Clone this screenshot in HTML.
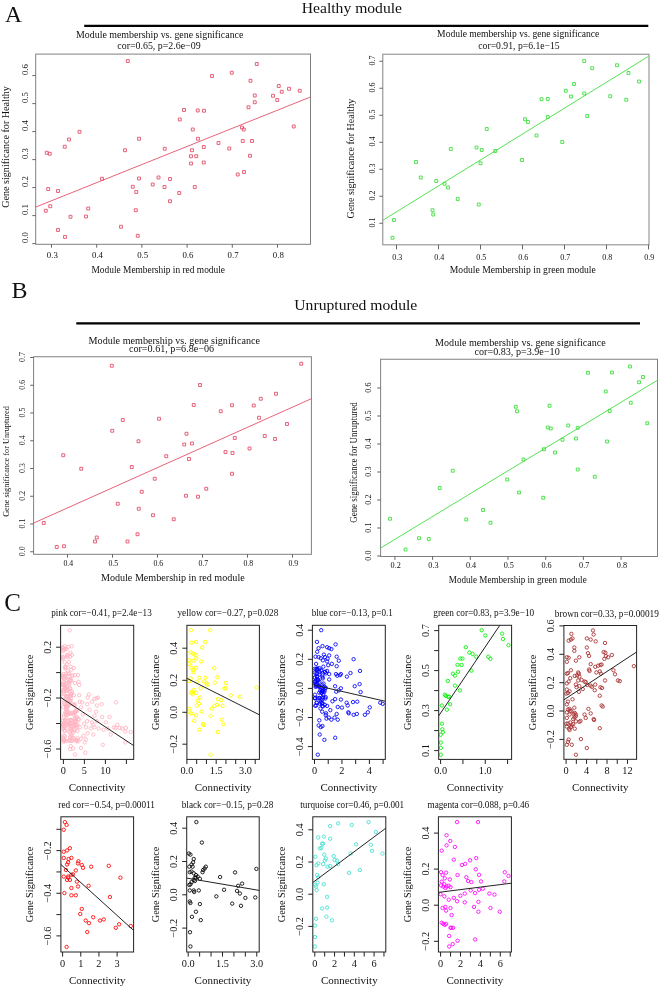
<!DOCTYPE html>
<html><head><meta charset="utf-8"><style>
html,body{margin:0;padding:0;background:#fff;width:660px;height:987px;overflow:hidden}
svg{display:block;filter:blur(0.3px)}
text{font-family:"Liberation Serif",serif}
</style></head><body>
<svg width="660" height="987" viewBox="0 0 660 987" font-family="Liberation Serif, serif">
<rect width="660" height="987" fill="#fff"/>
<text x="5.00" y="22.00" font-size="23.5" text-anchor="start" fill="#111" >A</text>
<text x="301.80" y="12.60" font-size="15.5" text-anchor="start" textLength="100.20" lengthAdjust="spacingAndGlyphs" fill="#111" >Healthy module</text>
<line x1="84.20" y1="25.80" x2="648.30" y2="25.80" stroke="#000" stroke-width="2.3"/>
<text x="11.60" y="297.80" font-size="24" text-anchor="start" fill="#111" >B</text>
<text x="294.30" y="310.00" font-size="15.5" text-anchor="start" textLength="123.00" lengthAdjust="spacingAndGlyphs" fill="#111" >Unruptured module</text>
<line x1="76.25" y1="323.30" x2="640.00" y2="323.30" stroke="#000" stroke-width="2.3"/>
<text x="4.20" y="611.40" font-size="25" text-anchor="start" fill="#111" >C</text>
<rect x="35.70" y="54.10" width="274.80" height="190.20" stroke="#808080" stroke-width="1" fill="none"/>
<line x1="32.30" y1="243.60" x2="35.70" y2="243.60" stroke="#555" stroke-width="0.9"/>
<text x="28.00" y="237.60" font-size="8.8" text-anchor="middle" transform="rotate(-90 28.00 237.60)" fill="#111" >0.0</text>
<line x1="32.30" y1="215.60" x2="35.70" y2="215.60" stroke="#555" stroke-width="0.9"/>
<text x="28.00" y="209.60" font-size="8.8" text-anchor="middle" transform="rotate(-90 28.00 209.60)" fill="#111" >0.1</text>
<line x1="32.30" y1="187.60" x2="35.70" y2="187.60" stroke="#555" stroke-width="0.9"/>
<text x="28.00" y="181.60" font-size="8.8" text-anchor="middle" transform="rotate(-90 28.00 181.60)" fill="#111" >0.2</text>
<line x1="32.30" y1="159.60" x2="35.70" y2="159.60" stroke="#555" stroke-width="0.9"/>
<text x="28.00" y="153.60" font-size="8.8" text-anchor="middle" transform="rotate(-90 28.00 153.60)" fill="#111" >0.3</text>
<line x1="32.30" y1="131.60" x2="35.70" y2="131.60" stroke="#555" stroke-width="0.9"/>
<text x="28.00" y="125.60" font-size="8.8" text-anchor="middle" transform="rotate(-90 28.00 125.60)" fill="#111" >0.4</text>
<line x1="32.30" y1="103.60" x2="35.70" y2="103.60" stroke="#555" stroke-width="0.9"/>
<text x="28.00" y="97.60" font-size="8.8" text-anchor="middle" transform="rotate(-90 28.00 97.60)" fill="#111" >0.5</text>
<line x1="32.30" y1="75.60" x2="35.70" y2="75.60" stroke="#555" stroke-width="0.9"/>
<text x="28.00" y="69.60" font-size="8.8" text-anchor="middle" transform="rotate(-90 28.00 69.60)" fill="#111" >0.6</text>
<line x1="51.50" y1="244.30" x2="51.50" y2="247.70" stroke="#555" stroke-width="0.9"/>
<text x="52.30" y="258.20" font-size="8.8" text-anchor="middle" fill="#111" >0.3</text>
<line x1="96.70" y1="244.30" x2="96.70" y2="247.70" stroke="#555" stroke-width="0.9"/>
<text x="97.50" y="258.20" font-size="8.8" text-anchor="middle" fill="#111" >0.4</text>
<line x1="141.90" y1="244.30" x2="141.90" y2="247.70" stroke="#555" stroke-width="0.9"/>
<text x="142.70" y="258.20" font-size="8.8" text-anchor="middle" fill="#111" >0.5</text>
<line x1="187.10" y1="244.30" x2="187.10" y2="247.70" stroke="#555" stroke-width="0.9"/>
<text x="187.90" y="258.20" font-size="8.8" text-anchor="middle" fill="#111" >0.6</text>
<line x1="232.30" y1="244.30" x2="232.30" y2="247.70" stroke="#555" stroke-width="0.9"/>
<text x="233.10" y="258.20" font-size="8.8" text-anchor="middle" fill="#111" >0.7</text>
<line x1="277.50" y1="244.30" x2="277.50" y2="247.70" stroke="#555" stroke-width="0.9"/>
<text x="278.30" y="258.20" font-size="8.8" text-anchor="middle" fill="#111" >0.8</text>
<path d="M126.30,59.55h2.9v2.9h-2.9zM78.05,130.30h2.9v2.9h-2.9zM67.55,138.05h2.9v2.9h-2.9zM63.30,145.30h2.9v2.9h-2.9zM45.30,151.30h2.9v2.9h-2.9zM48.30,152.30h2.9v2.9h-2.9zM123.55,148.80h2.9v2.9h-2.9zM137.55,137.30h2.9v2.9h-2.9zM163.30,147.30h2.9v2.9h-2.9zM182.55,108.55h2.9v2.9h-2.9zM196.30,109.05h2.9v2.9h-2.9zM178.30,118.05h2.9v2.9h-2.9zM191.30,128.05h2.9v2.9h-2.9zM196.55,137.30h2.9v2.9h-2.9zM190.55,148.80h2.9v2.9h-2.9zM189.55,154.80h2.9v2.9h-2.9zM194.80,154.80h2.9v2.9h-2.9zM46.80,187.55h2.9v2.9h-2.9zM56.55,189.55h2.9v2.9h-2.9zM44.30,209.30h2.9v2.9h-2.9zM48.80,204.80h2.9v2.9h-2.9zM100.55,177.30h2.9v2.9h-2.9zM86.80,207.05h2.9v2.9h-2.9zM69.05,215.30h2.9v2.9h-2.9zM84.55,215.05h2.9v2.9h-2.9zM56.55,228.55h2.9v2.9h-2.9zM63.55,235.55h2.9v2.9h-2.9zM119.55,225.30h2.9v2.9h-2.9zM136.30,234.30h2.9v2.9h-2.9zM134.30,208.80h2.9v2.9h-2.9zM131.30,185.30h2.9v2.9h-2.9zM134.80,190.55h2.9v2.9h-2.9zM137.55,177.05h2.9v2.9h-2.9zM151.30,183.05h2.9v2.9h-2.9zM157.05,176.05h2.9v2.9h-2.9zM163.05,185.55h2.9v2.9h-2.9zM168.55,177.55h2.9v2.9h-2.9zM168.55,199.80h2.9v2.9h-2.9zM177.80,191.55h2.9v2.9h-2.9zM193.30,185.55h2.9v2.9h-2.9zM189.55,162.05h2.9v2.9h-2.9zM255.30,62.55h2.9v2.9h-2.9zM210.55,74.55h2.9v2.9h-2.9zM230.30,71.30h2.9v2.9h-2.9zM249.05,79.30h2.9v2.9h-2.9zM277.30,84.55h2.9v2.9h-2.9zM287.55,87.30h2.9v2.9h-2.9zM280.30,90.30h2.9v2.9h-2.9zM298.30,89.30h2.9v2.9h-2.9zM271.55,94.30h2.9v2.9h-2.9zM275.80,98.55h2.9v2.9h-2.9zM253.30,94.05h2.9v2.9h-2.9zM253.30,100.80h2.9v2.9h-2.9zM247.05,105.80h2.9v2.9h-2.9zM202.55,109.30h2.9v2.9h-2.9zM240.55,126.05h2.9v2.9h-2.9zM242.30,128.05h2.9v2.9h-2.9zM292.30,125.05h2.9v2.9h-2.9zM202.30,145.55h2.9v2.9h-2.9zM217.05,141.55h2.9v2.9h-2.9zM227.80,147.05h2.9v2.9h-2.9zM241.30,139.55h2.9v2.9h-2.9zM250.55,139.55h2.9v2.9h-2.9zM248.55,154.30h2.9v2.9h-2.9zM202.30,161.05h2.9v2.9h-2.9zM236.30,173.05h2.9v2.9h-2.9zM242.55,170.55h2.9v2.9h-2.9z" fill="none" stroke="#e4506a" stroke-width="0.9"/>
<line x1="35.70" y1="207.10" x2="310.40" y2="97.00" stroke="#e4506a" stroke-width="0.9"/>
<text x="76.00" y="37.50" font-size="9.7" text-anchor="start" textLength="167.40" lengthAdjust="spacingAndGlyphs" fill="#111" >Module membership vs. gene significance</text>
<text x="117.30" y="48.50" font-size="9.7" text-anchor="start" textLength="83.30" lengthAdjust="spacingAndGlyphs" fill="#111" >cor=0.65, p=2.6e−09</text>
<text x="91.50" y="273.00" font-size="9.7" text-anchor="start" textLength="133.50" lengthAdjust="spacingAndGlyphs" fill="#111" >Module Membership in red module</text>
<text x="9.30" y="147.00" font-size="9.7" text-anchor="middle" textLength="121.70" lengthAdjust="spacingAndGlyphs" transform="rotate(-90 9.30 147.00)" fill="#111" >Gene significance for Healthy</text>
<rect x="382.75" y="54.25" width="266.25" height="190.55" stroke="#999999" stroke-width="1.2" fill="none"/>
<line x1="379.35" y1="223.25" x2="382.75" y2="223.25" stroke="#555" stroke-width="0.9"/>
<text x="375.00" y="222.45" font-size="8" text-anchor="middle" transform="rotate(-90 375.00 222.45)" fill="#111" >0.1</text>
<line x1="379.35" y1="196.25" x2="382.75" y2="196.25" stroke="#555" stroke-width="0.9"/>
<text x="375.00" y="195.45" font-size="8" text-anchor="middle" transform="rotate(-90 375.00 195.45)" fill="#111" >0.2</text>
<line x1="379.35" y1="169.25" x2="382.75" y2="169.25" stroke="#555" stroke-width="0.9"/>
<text x="375.00" y="168.45" font-size="8" text-anchor="middle" transform="rotate(-90 375.00 168.45)" fill="#111" >0.3</text>
<line x1="379.35" y1="142.25" x2="382.75" y2="142.25" stroke="#555" stroke-width="0.9"/>
<text x="375.00" y="141.45" font-size="8" text-anchor="middle" transform="rotate(-90 375.00 141.45)" fill="#111" >0.4</text>
<line x1="379.35" y1="115.25" x2="382.75" y2="115.25" stroke="#555" stroke-width="0.9"/>
<text x="375.00" y="114.45" font-size="8" text-anchor="middle" transform="rotate(-90 375.00 114.45)" fill="#111" >0.5</text>
<line x1="379.35" y1="88.25" x2="382.75" y2="88.25" stroke="#555" stroke-width="0.9"/>
<text x="375.00" y="87.45" font-size="8" text-anchor="middle" transform="rotate(-90 375.00 87.45)" fill="#111" >0.6</text>
<line x1="379.35" y1="61.25" x2="382.75" y2="61.25" stroke="#555" stroke-width="0.9"/>
<text x="375.00" y="60.45" font-size="8" text-anchor="middle" transform="rotate(-90 375.00 60.45)" fill="#111" >0.7</text>
<line x1="396.50" y1="244.80" x2="396.50" y2="249.40" stroke="#555" stroke-width="0.9"/>
<text x="397.30" y="259.50" font-size="8" text-anchor="middle" fill="#111" >0.3</text>
<line x1="438.50" y1="244.80" x2="438.50" y2="249.40" stroke="#555" stroke-width="0.9"/>
<text x="439.30" y="259.50" font-size="8" text-anchor="middle" fill="#111" >0.4</text>
<line x1="480.50" y1="244.80" x2="480.50" y2="249.40" stroke="#555" stroke-width="0.9"/>
<text x="481.30" y="259.50" font-size="8" text-anchor="middle" fill="#111" >0.5</text>
<line x1="522.50" y1="244.80" x2="522.50" y2="249.40" stroke="#555" stroke-width="0.9"/>
<text x="523.30" y="259.50" font-size="8" text-anchor="middle" fill="#111" >0.6</text>
<line x1="564.50" y1="244.80" x2="564.50" y2="249.40" stroke="#555" stroke-width="0.9"/>
<text x="565.30" y="259.50" font-size="8" text-anchor="middle" fill="#111" >0.7</text>
<line x1="606.50" y1="244.80" x2="606.50" y2="249.40" stroke="#555" stroke-width="0.9"/>
<text x="607.30" y="259.50" font-size="8" text-anchor="middle" fill="#111" >0.8</text>
<line x1="648.50" y1="244.80" x2="648.50" y2="249.40" stroke="#555" stroke-width="0.9"/>
<text x="649.30" y="259.50" font-size="8" text-anchor="middle" fill="#111" >0.9</text>
<path d="M540.05,97.80h2.9v2.9h-2.9zM523.55,117.80h2.9v2.9h-2.9zM526.55,120.55h2.9v2.9h-2.9zM485.30,127.55h2.9v2.9h-2.9zM535.05,134.05h2.9v2.9h-2.9zM449.30,147.55h2.9v2.9h-2.9zM475.05,146.05h2.9v2.9h-2.9zM480.30,148.55h2.9v2.9h-2.9zM493.80,149.55h2.9v2.9h-2.9zM520.55,158.55h2.9v2.9h-2.9zM414.55,160.55h2.9v2.9h-2.9zM479.05,161.80h2.9v2.9h-2.9zM419.30,176.05h2.9v2.9h-2.9zM434.80,179.55h2.9v2.9h-2.9zM443.05,182.30h2.9v2.9h-2.9zM446.55,186.05h2.9v2.9h-2.9zM456.30,197.55h2.9v2.9h-2.9zM477.30,203.05h2.9v2.9h-2.9zM431.05,208.80h2.9v2.9h-2.9zM431.80,213.05h2.9v2.9h-2.9zM392.55,218.55h2.9v2.9h-2.9zM391.05,236.30h2.9v2.9h-2.9zM582.80,59.55h2.9v2.9h-2.9zM590.80,66.80h2.9v2.9h-2.9zM615.55,63.80h2.9v2.9h-2.9zM627.05,71.55h2.9v2.9h-2.9zM637.55,80.05h2.9v2.9h-2.9zM572.55,82.55h2.9v2.9h-2.9zM564.30,89.30h2.9v2.9h-2.9zM569.55,95.05h2.9v2.9h-2.9zM582.80,92.05h2.9v2.9h-2.9zM608.80,94.80h2.9v2.9h-2.9zM624.80,98.30h2.9v2.9h-2.9zM546.30,97.55h2.9v2.9h-2.9zM585.80,114.55h2.9v2.9h-2.9zM546.30,115.55h2.9v2.9h-2.9zM560.80,140.55h2.9v2.9h-2.9z" fill="none" stroke="#3ee03e" stroke-width="0.9"/>
<line x1="382.75" y1="220.30" x2="648.50" y2="56.30" stroke="#3ee03e" stroke-width="0.9"/>
<text x="437.10" y="37.30" font-size="9.4" text-anchor="start" textLength="162.30" lengthAdjust="spacingAndGlyphs" fill="#111" >Module membership vs. gene significance</text>
<text x="478.30" y="48.60" font-size="9.4" text-anchor="start" textLength="81.40" lengthAdjust="spacingAndGlyphs" fill="#111" >cor=0.91, p=6.1e−15</text>
<text x="449.80" y="272.80" font-size="9.4" text-anchor="start" textLength="146.00" lengthAdjust="spacingAndGlyphs" fill="#111" >Module Membership in green module</text>
<text x="353.70" y="158.70" font-size="9.6" text-anchor="middle" textLength="119.70" lengthAdjust="spacingAndGlyphs" transform="rotate(-90 353.70 158.70)" fill="#111" >Gene significance for Healthy</text>
<rect x="33.60" y="356.75" width="277.80" height="197.55" stroke="#808080" stroke-width="1" fill="none"/>
<line x1="30.20" y1="551.75" x2="33.60" y2="551.75" stroke="#555" stroke-width="0.9"/>
<text x="25.10" y="551.25" font-size="7.8" text-anchor="middle" transform="rotate(-90 25.10 551.25)" fill="#111" >0.0</text>
<line x1="30.20" y1="524.00" x2="33.60" y2="524.00" stroke="#555" stroke-width="0.9"/>
<text x="25.10" y="523.50" font-size="7.8" text-anchor="middle" transform="rotate(-90 25.10 523.50)" fill="#111" >0.1</text>
<line x1="30.20" y1="496.25" x2="33.60" y2="496.25" stroke="#555" stroke-width="0.9"/>
<text x="25.10" y="495.75" font-size="7.8" text-anchor="middle" transform="rotate(-90 25.10 495.75)" fill="#111" >0.2</text>
<line x1="30.20" y1="468.50" x2="33.60" y2="468.50" stroke="#555" stroke-width="0.9"/>
<text x="25.10" y="468.00" font-size="7.8" text-anchor="middle" transform="rotate(-90 25.10 468.00)" fill="#111" >0.3</text>
<line x1="30.20" y1="440.75" x2="33.60" y2="440.75" stroke="#555" stroke-width="0.9"/>
<text x="25.10" y="440.25" font-size="7.8" text-anchor="middle" transform="rotate(-90 25.10 440.25)" fill="#111" >0.4</text>
<line x1="30.20" y1="413.00" x2="33.60" y2="413.00" stroke="#555" stroke-width="0.9"/>
<text x="25.10" y="412.50" font-size="7.8" text-anchor="middle" transform="rotate(-90 25.10 412.50)" fill="#111" >0.5</text>
<line x1="30.20" y1="385.25" x2="33.60" y2="385.25" stroke="#555" stroke-width="0.9"/>
<text x="25.10" y="384.75" font-size="7.8" text-anchor="middle" transform="rotate(-90 25.10 384.75)" fill="#111" >0.6</text>
<line x1="30.20" y1="357.50" x2="33.60" y2="357.50" stroke="#555" stroke-width="0.9"/>
<text x="25.10" y="357.00" font-size="7.8" text-anchor="middle" transform="rotate(-90 25.10 357.00)" fill="#111" >0.7</text>
<line x1="67.50" y1="554.30" x2="67.50" y2="557.70" stroke="#555" stroke-width="0.9"/>
<text x="68.30" y="566.40" font-size="7.8" text-anchor="middle" fill="#111" >0.4</text>
<line x1="112.50" y1="554.30" x2="112.50" y2="557.70" stroke="#555" stroke-width="0.9"/>
<text x="113.30" y="566.40" font-size="7.8" text-anchor="middle" fill="#111" >0.5</text>
<line x1="157.50" y1="554.30" x2="157.50" y2="557.70" stroke="#555" stroke-width="0.9"/>
<text x="158.30" y="566.40" font-size="7.8" text-anchor="middle" fill="#111" >0.6</text>
<line x1="202.50" y1="554.30" x2="202.50" y2="557.70" stroke="#555" stroke-width="0.9"/>
<text x="203.30" y="566.40" font-size="7.8" text-anchor="middle" fill="#111" >0.7</text>
<line x1="247.50" y1="554.30" x2="247.50" y2="557.70" stroke="#555" stroke-width="0.9"/>
<text x="248.30" y="566.40" font-size="7.8" text-anchor="middle" fill="#111" >0.8</text>
<line x1="292.50" y1="554.30" x2="292.50" y2="557.70" stroke="#555" stroke-width="0.9"/>
<text x="293.30" y="566.40" font-size="7.8" text-anchor="middle" fill="#111" >0.9</text>
<path d="M110.30,364.30h2.9v2.9h-2.9zM121.30,418.55h2.9v2.9h-2.9zM157.55,417.30h2.9v2.9h-2.9zM110.80,429.30h2.9v2.9h-2.9zM137.05,439.80h2.9v2.9h-2.9zM185.05,432.30h2.9v2.9h-2.9zM182.80,443.05h2.9v2.9h-2.9zM190.55,442.05h2.9v2.9h-2.9zM192.30,403.55h2.9v2.9h-2.9zM61.80,453.80h2.9v2.9h-2.9zM164.80,454.80h2.9v2.9h-2.9zM187.55,457.55h2.9v2.9h-2.9zM79.80,467.30h2.9v2.9h-2.9zM130.30,465.55h2.9v2.9h-2.9zM153.30,477.30h2.9v2.9h-2.9zM140.30,490.30h2.9v2.9h-2.9zM184.55,494.30h2.9v2.9h-2.9zM116.30,502.30h2.9v2.9h-2.9zM137.30,507.30h2.9v2.9h-2.9zM151.55,513.80h2.9v2.9h-2.9zM172.30,517.80h2.9v2.9h-2.9zM42.30,521.55h2.9v2.9h-2.9zM95.30,536.05h2.9v2.9h-2.9zM93.55,540.05h2.9v2.9h-2.9zM126.05,540.05h2.9v2.9h-2.9zM136.05,532.80h2.9v2.9h-2.9zM55.30,545.55h2.9v2.9h-2.9zM62.55,544.80h2.9v2.9h-2.9zM299.80,362.30h2.9v2.9h-2.9zM198.55,383.55h2.9v2.9h-2.9zM274.55,392.30h2.9v2.9h-2.9zM259.30,397.30h2.9v2.9h-2.9zM230.55,403.80h2.9v2.9h-2.9zM252.30,404.05h2.9v2.9h-2.9zM219.30,409.80h2.9v2.9h-2.9zM257.55,416.30h2.9v2.9h-2.9zM285.55,422.55h2.9v2.9h-2.9zM233.30,436.55h2.9v2.9h-2.9zM263.30,434.55h2.9v2.9h-2.9zM273.55,437.55h2.9v2.9h-2.9zM248.05,447.05h2.9v2.9h-2.9zM224.05,450.55h2.9v2.9h-2.9zM231.05,451.55h2.9v2.9h-2.9zM230.55,472.30h2.9v2.9h-2.9zM204.80,487.30h2.9v2.9h-2.9zM196.55,495.30h2.9v2.9h-2.9z" fill="none" stroke="#e4506a" stroke-width="0.9"/>
<line x1="33.60" y1="523.10" x2="311.25" y2="398.75" stroke="#e4506a" stroke-width="0.9"/>
<text x="88.60" y="343.90" font-size="9.4" text-anchor="start" textLength="171.40" lengthAdjust="spacingAndGlyphs" fill="#111" >Module membership vs. gene significance</text>
<text x="128.90" y="351.70" font-size="9.4" text-anchor="start" textLength="85.20" lengthAdjust="spacingAndGlyphs" fill="#111" >cor=0.61, p=6.8e−06</text>
<text x="100.90" y="580.50" font-size="9.4" text-anchor="start" textLength="143.80" lengthAdjust="spacingAndGlyphs" fill="#111" >Module Membership in red module</text>
<text x="9.20" y="461.50" font-size="8.8" text-anchor="middle" textLength="110.70" lengthAdjust="spacingAndGlyphs" transform="rotate(-90 9.20 461.50)" fill="#111" >Gene significance for Unruptured</text>
<rect x="380.60" y="359.25" width="276.90" height="197.25" stroke="#808080" stroke-width="1" fill="none"/>
<line x1="377.20" y1="556.00" x2="380.60" y2="556.00" stroke="#555" stroke-width="0.9"/>
<text x="371.00" y="555.50" font-size="8.2" text-anchor="middle" transform="rotate(-90 371.00 555.50)" fill="#111" >0.0</text>
<line x1="377.20" y1="528.00" x2="380.60" y2="528.00" stroke="#555" stroke-width="0.9"/>
<text x="371.00" y="527.50" font-size="8.2" text-anchor="middle" transform="rotate(-90 371.00 527.50)" fill="#111" >0.1</text>
<line x1="377.20" y1="500.00" x2="380.60" y2="500.00" stroke="#555" stroke-width="0.9"/>
<text x="371.00" y="499.50" font-size="8.2" text-anchor="middle" transform="rotate(-90 371.00 499.50)" fill="#111" >0.2</text>
<line x1="377.20" y1="472.00" x2="380.60" y2="472.00" stroke="#555" stroke-width="0.9"/>
<text x="371.00" y="471.50" font-size="8.2" text-anchor="middle" transform="rotate(-90 371.00 471.50)" fill="#111" >0.3</text>
<line x1="377.20" y1="444.00" x2="380.60" y2="444.00" stroke="#555" stroke-width="0.9"/>
<text x="371.00" y="443.50" font-size="8.2" text-anchor="middle" transform="rotate(-90 371.00 443.50)" fill="#111" >0.4</text>
<line x1="377.20" y1="416.00" x2="380.60" y2="416.00" stroke="#555" stroke-width="0.9"/>
<text x="371.00" y="415.50" font-size="8.2" text-anchor="middle" transform="rotate(-90 371.00 415.50)" fill="#111" >0.5</text>
<line x1="377.20" y1="388.00" x2="380.60" y2="388.00" stroke="#555" stroke-width="0.9"/>
<text x="371.00" y="387.50" font-size="8.2" text-anchor="middle" transform="rotate(-90 371.00 387.50)" fill="#111" >0.6</text>
<line x1="394.90" y1="556.50" x2="394.90" y2="559.90" stroke="#555" stroke-width="0.9"/>
<text x="395.70" y="568.20" font-size="8.2" text-anchor="middle" fill="#111" >0.2</text>
<line x1="432.60" y1="556.50" x2="432.60" y2="559.90" stroke="#555" stroke-width="0.9"/>
<text x="433.40" y="568.20" font-size="8.2" text-anchor="middle" fill="#111" >0.3</text>
<line x1="470.30" y1="556.50" x2="470.30" y2="559.90" stroke="#555" stroke-width="0.9"/>
<text x="471.10" y="568.20" font-size="8.2" text-anchor="middle" fill="#111" >0.4</text>
<line x1="508.00" y1="556.50" x2="508.00" y2="559.90" stroke="#555" stroke-width="0.9"/>
<text x="508.80" y="568.20" font-size="8.2" text-anchor="middle" fill="#111" >0.5</text>
<line x1="545.70" y1="556.50" x2="545.70" y2="559.90" stroke="#555" stroke-width="0.9"/>
<text x="546.50" y="568.20" font-size="8.2" text-anchor="middle" fill="#111" >0.6</text>
<line x1="583.40" y1="556.50" x2="583.40" y2="559.90" stroke="#555" stroke-width="0.9"/>
<text x="584.20" y="568.20" font-size="8.2" text-anchor="middle" fill="#111" >0.7</text>
<line x1="621.10" y1="556.50" x2="621.10" y2="559.90" stroke="#555" stroke-width="0.9"/>
<text x="621.90" y="568.20" font-size="8.2" text-anchor="middle" fill="#111" >0.8</text>
<path d="M514.30,405.30h2.9v2.9h-2.9zM515.55,409.80h2.9v2.9h-2.9zM522.05,458.05h2.9v2.9h-2.9zM451.30,469.30h2.9v2.9h-2.9zM505.80,478.05h2.9v2.9h-2.9zM438.30,486.55h2.9v2.9h-2.9zM517.55,491.05h2.9v2.9h-2.9zM541.80,496.30h2.9v2.9h-2.9zM481.55,508.55h2.9v2.9h-2.9zM388.55,517.30h2.9v2.9h-2.9zM464.80,518.05h2.9v2.9h-2.9zM489.05,521.30h2.9v2.9h-2.9zM417.55,536.80h2.9v2.9h-2.9zM427.30,537.55h2.9v2.9h-2.9zM404.05,548.05h2.9v2.9h-2.9zM628.55,365.05h2.9v2.9h-2.9zM586.55,371.30h2.9v2.9h-2.9zM610.55,371.05h2.9v2.9h-2.9zM641.55,375.55h2.9v2.9h-2.9zM637.55,380.80h2.9v2.9h-2.9zM604.30,390.05h2.9v2.9h-2.9zM629.30,401.30h2.9v2.9h-2.9zM548.05,404.30h2.9v2.9h-2.9zM608.30,409.55h2.9v2.9h-2.9zM645.80,421.80h2.9v2.9h-2.9zM566.80,424.05h2.9v2.9h-2.9zM546.30,426.05h2.9v2.9h-2.9zM549.30,427.05h2.9v2.9h-2.9zM576.30,426.30h2.9v2.9h-2.9zM561.05,438.30h2.9v2.9h-2.9zM574.55,437.05h2.9v2.9h-2.9zM605.55,440.05h2.9v2.9h-2.9zM542.55,447.80h2.9v2.9h-2.9zM553.55,451.05h2.9v2.9h-2.9zM576.30,468.05h2.9v2.9h-2.9zM593.30,475.30h2.9v2.9h-2.9z" fill="none" stroke="#3ee03e" stroke-width="0.9"/>
<line x1="380.60" y1="548.00" x2="657.75" y2="380.00" stroke="#3ee03e" stroke-width="0.9"/>
<text x="435.10" y="346.00" font-size="9.4" text-anchor="start" textLength="170.70" lengthAdjust="spacingAndGlyphs" fill="#111" >Module membership vs. gene significance</text>
<text x="474.50" y="354.60" font-size="9.4" text-anchor="start" textLength="85.20" lengthAdjust="spacingAndGlyphs" fill="#111" >cor=0.83, p=3.9e−10</text>
<text x="448.80" y="582.70" font-size="9.4" text-anchor="start" textLength="137.90" lengthAdjust="spacingAndGlyphs" fill="#111" >Module Membership in green module</text>
<text x="356.60" y="462.50" font-size="9.6" text-anchor="middle" textLength="120.60" lengthAdjust="spacingAndGlyphs" transform="rotate(-90 356.60 462.50)" fill="#111" >Gene significance for Unruptured</text>
<path d="M68.10,630.30a1.7,1.7 0 1,0 3.4,0a1.7,1.7 0 1,0 -3.4,0M63.00,646.10a1.7,1.7 0 1,0 3.4,0a1.7,1.7 0 1,0 -3.4,0M65.00,649.10a1.7,1.7 0 1,0 3.4,0a1.7,1.7 0 1,0 -3.4,0M61.80,649.70a1.7,1.7 0 1,0 3.4,0a1.7,1.7 0 1,0 -3.4,0M70.20,654.90a1.7,1.7 0 1,0 3.4,0a1.7,1.7 0 1,0 -3.4,0M68.40,656.70a1.7,1.7 0 1,0 3.4,0a1.7,1.7 0 1,0 -3.4,0M65.40,657.00a1.7,1.7 0 1,0 3.4,0a1.7,1.7 0 1,0 -3.4,0M61.80,657.60a1.7,1.7 0 1,0 3.4,0a1.7,1.7 0 1,0 -3.4,0M67.20,661.80a1.7,1.7 0 1,0 3.4,0a1.7,1.7 0 1,0 -3.4,0M63.00,662.40a1.7,1.7 0 1,0 3.4,0a1.7,1.7 0 1,0 -3.4,0M65.40,664.20a1.7,1.7 0 1,0 3.4,0a1.7,1.7 0 1,0 -3.4,0M72.10,667.90a1.7,1.7 0 1,0 3.4,0a1.7,1.7 0 1,0 -3.4,0M69.60,669.70a1.7,1.7 0 1,0 3.4,0a1.7,1.7 0 1,0 -3.4,0M69.00,666.70a1.7,1.7 0 1,0 3.4,0a1.7,1.7 0 1,0 -3.4,0M63.60,668.50a1.7,1.7 0 1,0 3.4,0a1.7,1.7 0 1,0 -3.4,0M73.30,675.20a1.7,1.7 0 1,0 3.4,0a1.7,1.7 0 1,0 -3.4,0M76.30,675.20a1.7,1.7 0 1,0 3.4,0a1.7,1.7 0 1,0 -3.4,0M76.90,681.80a1.7,1.7 0 1,0 3.4,0a1.7,1.7 0 1,0 -3.4,0M77.50,684.80a1.7,1.7 0 1,0 3.4,0a1.7,1.7 0 1,0 -3.4,0M73.30,683.00a1.7,1.7 0 1,0 3.4,0a1.7,1.7 0 1,0 -3.4,0M87.20,694.50a1.7,1.7 0 1,0 3.4,0a1.7,1.7 0 1,0 -3.4,0M86.00,697.60a1.7,1.7 0 1,0 3.4,0a1.7,1.7 0 1,0 -3.4,0M92.70,698.80a1.7,1.7 0 1,0 3.4,0a1.7,1.7 0 1,0 -3.4,0M94.80,698.20a1.7,1.7 0 1,0 3.4,0a1.7,1.7 0 1,0 -3.4,0M96.30,697.60a1.7,1.7 0 1,0 3.4,0a1.7,1.7 0 1,0 -3.4,0M77.50,695.20a1.7,1.7 0 1,0 3.4,0a1.7,1.7 0 1,0 -3.4,0M72.10,695.20a1.7,1.7 0 1,0 3.4,0a1.7,1.7 0 1,0 -3.4,0M68.40,695.80a1.7,1.7 0 1,0 3.4,0a1.7,1.7 0 1,0 -3.4,0M78.10,701.80a1.7,1.7 0 1,0 3.4,0a1.7,1.7 0 1,0 -3.4,0M80.50,702.40a1.7,1.7 0 1,0 3.4,0a1.7,1.7 0 1,0 -3.4,0M85.40,704.20a1.7,1.7 0 1,0 3.4,0a1.7,1.7 0 1,0 -3.4,0M90.20,701.80a1.7,1.7 0 1,0 3.4,0a1.7,1.7 0 1,0 -3.4,0M95.10,705.50a1.7,1.7 0 1,0 3.4,0a1.7,1.7 0 1,0 -3.4,0M99.90,704.20a1.7,1.7 0 1,0 3.4,0a1.7,1.7 0 1,0 -3.4,0M114.20,702.40a1.7,1.7 0 1,0 3.4,0a1.7,1.7 0 1,0 -3.4,0M87.80,709.70a1.7,1.7 0 1,0 3.4,0a1.7,1.7 0 1,0 -3.4,0M94.50,711.80a1.7,1.7 0 1,0 3.4,0a1.7,1.7 0 1,0 -3.4,0M79.30,707.30a1.7,1.7 0 1,0 3.4,0a1.7,1.7 0 1,0 -3.4,0M81.10,714.50a1.7,1.7 0 1,0 3.4,0a1.7,1.7 0 1,0 -3.4,0M92.70,715.80a1.7,1.7 0 1,0 3.4,0a1.7,1.7 0 1,0 -3.4,0M100.50,717.00a1.7,1.7 0 1,0 3.4,0a1.7,1.7 0 1,0 -3.4,0M107.80,717.00a1.7,1.7 0 1,0 3.4,0a1.7,1.7 0 1,0 -3.4,0M76.90,718.80a1.7,1.7 0 1,0 3.4,0a1.7,1.7 0 1,0 -3.4,0M85.40,721.20a1.7,1.7 0 1,0 3.4,0a1.7,1.7 0 1,0 -3.4,0M90.20,722.40a1.7,1.7 0 1,0 3.4,0a1.7,1.7 0 1,0 -3.4,0M95.10,721.20a1.7,1.7 0 1,0 3.4,0a1.7,1.7 0 1,0 -3.4,0M104.20,722.40a1.7,1.7 0 1,0 3.4,0a1.7,1.7 0 1,0 -3.4,0M112.10,727.30a1.7,1.7 0 1,0 3.4,0a1.7,1.7 0 1,0 -3.4,0M115.70,724.80a1.7,1.7 0 1,0 3.4,0a1.7,1.7 0 1,0 -3.4,0M118.10,727.90a1.7,1.7 0 1,0 3.4,0a1.7,1.7 0 1,0 -3.4,0M120.50,728.50a1.7,1.7 0 1,0 3.4,0a1.7,1.7 0 1,0 -3.4,0M124.20,727.90a1.7,1.7 0 1,0 3.4,0a1.7,1.7 0 1,0 -3.4,0M129.00,732.10a1.7,1.7 0 1,0 3.4,0a1.7,1.7 0 1,0 -3.4,0M91.50,724.80a1.7,1.7 0 1,0 3.4,0a1.7,1.7 0 1,0 -3.4,0M92.70,727.30a1.7,1.7 0 1,0 3.4,0a1.7,1.7 0 1,0 -3.4,0M96.90,728.50a1.7,1.7 0 1,0 3.4,0a1.7,1.7 0 1,0 -3.4,0M101.80,729.70a1.7,1.7 0 1,0 3.4,0a1.7,1.7 0 1,0 -3.4,0M106.00,728.50a1.7,1.7 0 1,0 3.4,0a1.7,1.7 0 1,0 -3.4,0M109.00,734.50a1.7,1.7 0 1,0 3.4,0a1.7,1.7 0 1,0 -3.4,0M113.90,727.90a1.7,1.7 0 1,0 3.4,0a1.7,1.7 0 1,0 -3.4,0M123.60,731.50a1.7,1.7 0 1,0 3.4,0a1.7,1.7 0 1,0 -3.4,0M123.60,742.40a1.7,1.7 0 1,0 3.4,0a1.7,1.7 0 1,0 -3.4,0M101.10,744.80a1.7,1.7 0 1,0 3.4,0a1.7,1.7 0 1,0 -3.4,0M82.30,723.60a1.7,1.7 0 1,0 3.4,0a1.7,1.7 0 1,0 -3.4,0M84.20,727.30a1.7,1.7 0 1,0 3.4,0a1.7,1.7 0 1,0 -3.4,0M89.00,728.50a1.7,1.7 0 1,0 3.4,0a1.7,1.7 0 1,0 -3.4,0M86.00,733.30a1.7,1.7 0 1,0 3.4,0a1.7,1.7 0 1,0 -3.4,0M91.50,734.50a1.7,1.7 0 1,0 3.4,0a1.7,1.7 0 1,0 -3.4,0M81.80,735.80a1.7,1.7 0 1,0 3.4,0a1.7,1.7 0 1,0 -3.4,0M84.20,739.40a1.7,1.7 0 1,0 3.4,0a1.7,1.7 0 1,0 -3.4,0M83.00,742.40a1.7,1.7 0 1,0 3.4,0a1.7,1.7 0 1,0 -3.4,0M75.70,738.20a1.7,1.7 0 1,0 3.4,0a1.7,1.7 0 1,0 -3.4,0M75.10,740.60a1.7,1.7 0 1,0 3.4,0a1.7,1.7 0 1,0 -3.4,0M79.30,747.90a1.7,1.7 0 1,0 3.4,0a1.7,1.7 0 1,0 -3.4,0M83.60,752.70a1.7,1.7 0 1,0 3.4,0a1.7,1.7 0 1,0 -3.4,0M73.30,754.50a1.7,1.7 0 1,0 3.4,0a1.7,1.7 0 1,0 -3.4,0M69.00,746.10a1.7,1.7 0 1,0 3.4,0a1.7,1.7 0 1,0 -3.4,0M68.40,749.10a1.7,1.7 0 1,0 3.4,0a1.7,1.7 0 1,0 -3.4,0M71.50,748.50a1.7,1.7 0 1,0 3.4,0a1.7,1.7 0 1,0 -3.4,0M76.90,720.00a1.7,1.7 0 1,0 3.4,0a1.7,1.7 0 1,0 -3.4,0M74.50,724.80a1.7,1.7 0 1,0 3.4,0a1.7,1.7 0 1,0 -3.4,0M72.10,729.70a1.7,1.7 0 1,0 3.4,0a1.7,1.7 0 1,0 -3.4,0M75.70,730.90a1.7,1.7 0 1,0 3.4,0a1.7,1.7 0 1,0 -3.4,0M68.40,737.00a1.7,1.7 0 1,0 3.4,0a1.7,1.7 0 1,0 -3.4,0M67.20,740.60a1.7,1.7 0 1,0 3.4,0a1.7,1.7 0 1,0 -3.4,0M63.26,649.07a1.7,1.7 0 1,0 3.4,0a1.7,1.7 0 1,0 -3.4,0M66.48,646.96a1.7,1.7 0 1,0 3.4,0a1.7,1.7 0 1,0 -3.4,0M65.29,654.87a1.7,1.7 0 1,0 3.4,0a1.7,1.7 0 1,0 -3.4,0M61.11,658.70a1.7,1.7 0 1,0 3.4,0a1.7,1.7 0 1,0 -3.4,0M60.98,656.71a1.7,1.7 0 1,0 3.4,0a1.7,1.7 0 1,0 -3.4,0M61.19,647.45a1.7,1.7 0 1,0 3.4,0a1.7,1.7 0 1,0 -3.4,0M64.20,667.33a1.7,1.7 0 1,0 3.4,0a1.7,1.7 0 1,0 -3.4,0M61.57,651.03a1.7,1.7 0 1,0 3.4,0a1.7,1.7 0 1,0 -3.4,0M66.23,670.59a1.7,1.7 0 1,0 3.4,0a1.7,1.7 0 1,0 -3.4,0M65.71,655.71a1.7,1.7 0 1,0 3.4,0a1.7,1.7 0 1,0 -3.4,0M70.03,646.26a1.7,1.7 0 1,0 3.4,0a1.7,1.7 0 1,0 -3.4,0M68.71,652.82a1.7,1.7 0 1,0 3.4,0a1.7,1.7 0 1,0 -3.4,0M61.73,648.18a1.7,1.7 0 1,0 3.4,0a1.7,1.7 0 1,0 -3.4,0M63.12,667.04a1.7,1.7 0 1,0 3.4,0a1.7,1.7 0 1,0 -3.4,0M62.85,688.28a1.7,1.7 0 1,0 3.4,0a1.7,1.7 0 1,0 -3.4,0M67.30,682.43a1.7,1.7 0 1,0 3.4,0a1.7,1.7 0 1,0 -3.4,0M66.41,673.76a1.7,1.7 0 1,0 3.4,0a1.7,1.7 0 1,0 -3.4,0M61.68,677.77a1.7,1.7 0 1,0 3.4,0a1.7,1.7 0 1,0 -3.4,0M67.70,683.97a1.7,1.7 0 1,0 3.4,0a1.7,1.7 0 1,0 -3.4,0M64.15,688.40a1.7,1.7 0 1,0 3.4,0a1.7,1.7 0 1,0 -3.4,0M65.50,680.39a1.7,1.7 0 1,0 3.4,0a1.7,1.7 0 1,0 -3.4,0M68.81,691.57a1.7,1.7 0 1,0 3.4,0a1.7,1.7 0 1,0 -3.4,0M63.47,688.08a1.7,1.7 0 1,0 3.4,0a1.7,1.7 0 1,0 -3.4,0M66.19,696.50a1.7,1.7 0 1,0 3.4,0a1.7,1.7 0 1,0 -3.4,0M68.18,680.06a1.7,1.7 0 1,0 3.4,0a1.7,1.7 0 1,0 -3.4,0M70.61,675.31a1.7,1.7 0 1,0 3.4,0a1.7,1.7 0 1,0 -3.4,0M65.16,693.20a1.7,1.7 0 1,0 3.4,0a1.7,1.7 0 1,0 -3.4,0M62.57,685.69a1.7,1.7 0 1,0 3.4,0a1.7,1.7 0 1,0 -3.4,0M61.48,690.71a1.7,1.7 0 1,0 3.4,0a1.7,1.7 0 1,0 -3.4,0M68.52,688.04a1.7,1.7 0 1,0 3.4,0a1.7,1.7 0 1,0 -3.4,0M69.59,680.78a1.7,1.7 0 1,0 3.4,0a1.7,1.7 0 1,0 -3.4,0M67.84,688.64a1.7,1.7 0 1,0 3.4,0a1.7,1.7 0 1,0 -3.4,0M66.72,684.77a1.7,1.7 0 1,0 3.4,0a1.7,1.7 0 1,0 -3.4,0M69.25,698.45a1.7,1.7 0 1,0 3.4,0a1.7,1.7 0 1,0 -3.4,0M65.70,690.60a1.7,1.7 0 1,0 3.4,0a1.7,1.7 0 1,0 -3.4,0M61.69,691.64a1.7,1.7 0 1,0 3.4,0a1.7,1.7 0 1,0 -3.4,0M67.38,699.81a1.7,1.7 0 1,0 3.4,0a1.7,1.7 0 1,0 -3.4,0M69.07,679.97a1.7,1.7 0 1,0 3.4,0a1.7,1.7 0 1,0 -3.4,0M64.84,690.72a1.7,1.7 0 1,0 3.4,0a1.7,1.7 0 1,0 -3.4,0M61.32,684.93a1.7,1.7 0 1,0 3.4,0a1.7,1.7 0 1,0 -3.4,0M62.73,675.28a1.7,1.7 0 1,0 3.4,0a1.7,1.7 0 1,0 -3.4,0M61.67,693.51a1.7,1.7 0 1,0 3.4,0a1.7,1.7 0 1,0 -3.4,0M62.35,678.93a1.7,1.7 0 1,0 3.4,0a1.7,1.7 0 1,0 -3.4,0M64.89,696.40a1.7,1.7 0 1,0 3.4,0a1.7,1.7 0 1,0 -3.4,0M61.88,684.58a1.7,1.7 0 1,0 3.4,0a1.7,1.7 0 1,0 -3.4,0M66.43,696.73a1.7,1.7 0 1,0 3.4,0a1.7,1.7 0 1,0 -3.4,0M69.05,696.19a1.7,1.7 0 1,0 3.4,0a1.7,1.7 0 1,0 -3.4,0M63.80,683.63a1.7,1.7 0 1,0 3.4,0a1.7,1.7 0 1,0 -3.4,0M64.58,696.76a1.7,1.7 0 1,0 3.4,0a1.7,1.7 0 1,0 -3.4,0M70.39,676.23a1.7,1.7 0 1,0 3.4,0a1.7,1.7 0 1,0 -3.4,0M62.81,678.49a1.7,1.7 0 1,0 3.4,0a1.7,1.7 0 1,0 -3.4,0M63.36,685.58a1.7,1.7 0 1,0 3.4,0a1.7,1.7 0 1,0 -3.4,0M66.81,679.36a1.7,1.7 0 1,0 3.4,0a1.7,1.7 0 1,0 -3.4,0M61.14,683.73a1.7,1.7 0 1,0 3.4,0a1.7,1.7 0 1,0 -3.4,0M64.68,687.86a1.7,1.7 0 1,0 3.4,0a1.7,1.7 0 1,0 -3.4,0M70.35,691.33a1.7,1.7 0 1,0 3.4,0a1.7,1.7 0 1,0 -3.4,0M66.10,689.29a1.7,1.7 0 1,0 3.4,0a1.7,1.7 0 1,0 -3.4,0M67.66,673.51a1.7,1.7 0 1,0 3.4,0a1.7,1.7 0 1,0 -3.4,0M69.83,693.84a1.7,1.7 0 1,0 3.4,0a1.7,1.7 0 1,0 -3.4,0M69.58,694.34a1.7,1.7 0 1,0 3.4,0a1.7,1.7 0 1,0 -3.4,0M64.91,683.17a1.7,1.7 0 1,0 3.4,0a1.7,1.7 0 1,0 -3.4,0M62.10,689.76a1.7,1.7 0 1,0 3.4,0a1.7,1.7 0 1,0 -3.4,0M61.70,673.89a1.7,1.7 0 1,0 3.4,0a1.7,1.7 0 1,0 -3.4,0M63.13,676.54a1.7,1.7 0 1,0 3.4,0a1.7,1.7 0 1,0 -3.4,0M64.40,673.47a1.7,1.7 0 1,0 3.4,0a1.7,1.7 0 1,0 -3.4,0M61.10,676.24a1.7,1.7 0 1,0 3.4,0a1.7,1.7 0 1,0 -3.4,0M62.08,682.18a1.7,1.7 0 1,0 3.4,0a1.7,1.7 0 1,0 -3.4,0M61.35,696.48a1.7,1.7 0 1,0 3.4,0a1.7,1.7 0 1,0 -3.4,0M67.06,676.16a1.7,1.7 0 1,0 3.4,0a1.7,1.7 0 1,0 -3.4,0M64.68,709.03a1.7,1.7 0 1,0 3.4,0a1.7,1.7 0 1,0 -3.4,0M66.27,703.19a1.7,1.7 0 1,0 3.4,0a1.7,1.7 0 1,0 -3.4,0M73.15,725.82a1.7,1.7 0 1,0 3.4,0a1.7,1.7 0 1,0 -3.4,0M67.72,712.58a1.7,1.7 0 1,0 3.4,0a1.7,1.7 0 1,0 -3.4,0M62.32,702.66a1.7,1.7 0 1,0 3.4,0a1.7,1.7 0 1,0 -3.4,0M65.97,706.88a1.7,1.7 0 1,0 3.4,0a1.7,1.7 0 1,0 -3.4,0M72.87,704.20a1.7,1.7 0 1,0 3.4,0a1.7,1.7 0 1,0 -3.4,0M61.43,724.73a1.7,1.7 0 1,0 3.4,0a1.7,1.7 0 1,0 -3.4,0M68.60,703.81a1.7,1.7 0 1,0 3.4,0a1.7,1.7 0 1,0 -3.4,0M68.81,700.70a1.7,1.7 0 1,0 3.4,0a1.7,1.7 0 1,0 -3.4,0M68.60,725.44a1.7,1.7 0 1,0 3.4,0a1.7,1.7 0 1,0 -3.4,0M73.36,718.10a1.7,1.7 0 1,0 3.4,0a1.7,1.7 0 1,0 -3.4,0M64.81,709.53a1.7,1.7 0 1,0 3.4,0a1.7,1.7 0 1,0 -3.4,0M63.47,720.07a1.7,1.7 0 1,0 3.4,0a1.7,1.7 0 1,0 -3.4,0M68.66,720.26a1.7,1.7 0 1,0 3.4,0a1.7,1.7 0 1,0 -3.4,0M65.78,705.80a1.7,1.7 0 1,0 3.4,0a1.7,1.7 0 1,0 -3.4,0M72.62,725.61a1.7,1.7 0 1,0 3.4,0a1.7,1.7 0 1,0 -3.4,0M73.21,720.96a1.7,1.7 0 1,0 3.4,0a1.7,1.7 0 1,0 -3.4,0M72.72,719.24a1.7,1.7 0 1,0 3.4,0a1.7,1.7 0 1,0 -3.4,0M64.32,713.46a1.7,1.7 0 1,0 3.4,0a1.7,1.7 0 1,0 -3.4,0M66.15,700.75a1.7,1.7 0 1,0 3.4,0a1.7,1.7 0 1,0 -3.4,0M61.50,707.26a1.7,1.7 0 1,0 3.4,0a1.7,1.7 0 1,0 -3.4,0M64.78,718.01a1.7,1.7 0 1,0 3.4,0a1.7,1.7 0 1,0 -3.4,0M74.68,711.63a1.7,1.7 0 1,0 3.4,0a1.7,1.7 0 1,0 -3.4,0M74.41,725.69a1.7,1.7 0 1,0 3.4,0a1.7,1.7 0 1,0 -3.4,0M74.66,709.48a1.7,1.7 0 1,0 3.4,0a1.7,1.7 0 1,0 -3.4,0M64.23,705.90a1.7,1.7 0 1,0 3.4,0a1.7,1.7 0 1,0 -3.4,0M63.89,705.31a1.7,1.7 0 1,0 3.4,0a1.7,1.7 0 1,0 -3.4,0M69.96,723.41a1.7,1.7 0 1,0 3.4,0a1.7,1.7 0 1,0 -3.4,0M73.03,712.47a1.7,1.7 0 1,0 3.4,0a1.7,1.7 0 1,0 -3.4,0M70.37,720.79a1.7,1.7 0 1,0 3.4,0a1.7,1.7 0 1,0 -3.4,0M62.30,717.18a1.7,1.7 0 1,0 3.4,0a1.7,1.7 0 1,0 -3.4,0M74.02,720.34a1.7,1.7 0 1,0 3.4,0a1.7,1.7 0 1,0 -3.4,0M71.75,712.43a1.7,1.7 0 1,0 3.4,0a1.7,1.7 0 1,0 -3.4,0M63.64,720.52a1.7,1.7 0 1,0 3.4,0a1.7,1.7 0 1,0 -3.4,0M65.82,720.82a1.7,1.7 0 1,0 3.4,0a1.7,1.7 0 1,0 -3.4,0M74.90,710.29a1.7,1.7 0 1,0 3.4,0a1.7,1.7 0 1,0 -3.4,0M66.80,724.62a1.7,1.7 0 1,0 3.4,0a1.7,1.7 0 1,0 -3.4,0M71.39,704.42a1.7,1.7 0 1,0 3.4,0a1.7,1.7 0 1,0 -3.4,0M62.90,703.93a1.7,1.7 0 1,0 3.4,0a1.7,1.7 0 1,0 -3.4,0M73.95,720.97a1.7,1.7 0 1,0 3.4,0a1.7,1.7 0 1,0 -3.4,0M63.18,721.49a1.7,1.7 0 1,0 3.4,0a1.7,1.7 0 1,0 -3.4,0M75.02,717.09a1.7,1.7 0 1,0 3.4,0a1.7,1.7 0 1,0 -3.4,0M66.08,714.27a1.7,1.7 0 1,0 3.4,0a1.7,1.7 0 1,0 -3.4,0M62.96,700.37a1.7,1.7 0 1,0 3.4,0a1.7,1.7 0 1,0 -3.4,0M74.89,716.89a1.7,1.7 0 1,0 3.4,0a1.7,1.7 0 1,0 -3.4,0M68.58,724.27a1.7,1.7 0 1,0 3.4,0a1.7,1.7 0 1,0 -3.4,0M67.26,722.67a1.7,1.7 0 1,0 3.4,0a1.7,1.7 0 1,0 -3.4,0M72.83,705.49a1.7,1.7 0 1,0 3.4,0a1.7,1.7 0 1,0 -3.4,0M64.68,707.62a1.7,1.7 0 1,0 3.4,0a1.7,1.7 0 1,0 -3.4,0M64.52,715.25a1.7,1.7 0 1,0 3.4,0a1.7,1.7 0 1,0 -3.4,0M64.78,710.89a1.7,1.7 0 1,0 3.4,0a1.7,1.7 0 1,0 -3.4,0M62.96,723.66a1.7,1.7 0 1,0 3.4,0a1.7,1.7 0 1,0 -3.4,0M66.12,711.91a1.7,1.7 0 1,0 3.4,0a1.7,1.7 0 1,0 -3.4,0M69.38,723.51a1.7,1.7 0 1,0 3.4,0a1.7,1.7 0 1,0 -3.4,0M67.07,723.86a1.7,1.7 0 1,0 3.4,0a1.7,1.7 0 1,0 -3.4,0M68.22,713.83a1.7,1.7 0 1,0 3.4,0a1.7,1.7 0 1,0 -3.4,0M68.53,700.49a1.7,1.7 0 1,0 3.4,0a1.7,1.7 0 1,0 -3.4,0M67.35,704.76a1.7,1.7 0 1,0 3.4,0a1.7,1.7 0 1,0 -3.4,0M61.16,720.78a1.7,1.7 0 1,0 3.4,0a1.7,1.7 0 1,0 -3.4,0M63.55,712.31a1.7,1.7 0 1,0 3.4,0a1.7,1.7 0 1,0 -3.4,0M71.40,714.47a1.7,1.7 0 1,0 3.4,0a1.7,1.7 0 1,0 -3.4,0M65.73,713.48a1.7,1.7 0 1,0 3.4,0a1.7,1.7 0 1,0 -3.4,0M68.99,720.39a1.7,1.7 0 1,0 3.4,0a1.7,1.7 0 1,0 -3.4,0M62.61,714.57a1.7,1.7 0 1,0 3.4,0a1.7,1.7 0 1,0 -3.4,0M64.63,707.20a1.7,1.7 0 1,0 3.4,0a1.7,1.7 0 1,0 -3.4,0M72.07,713.20a1.7,1.7 0 1,0 3.4,0a1.7,1.7 0 1,0 -3.4,0M69.08,719.76a1.7,1.7 0 1,0 3.4,0a1.7,1.7 0 1,0 -3.4,0M74.06,711.52a1.7,1.7 0 1,0 3.4,0a1.7,1.7 0 1,0 -3.4,0M69.80,713.14a1.7,1.7 0 1,0 3.4,0a1.7,1.7 0 1,0 -3.4,0M69.36,735.85a1.7,1.7 0 1,0 3.4,0a1.7,1.7 0 1,0 -3.4,0M68.25,732.67a1.7,1.7 0 1,0 3.4,0a1.7,1.7 0 1,0 -3.4,0M68.72,740.83a1.7,1.7 0 1,0 3.4,0a1.7,1.7 0 1,0 -3.4,0M73.02,739.53a1.7,1.7 0 1,0 3.4,0a1.7,1.7 0 1,0 -3.4,0M78.06,727.19a1.7,1.7 0 1,0 3.4,0a1.7,1.7 0 1,0 -3.4,0M70.27,740.87a1.7,1.7 0 1,0 3.4,0a1.7,1.7 0 1,0 -3.4,0M75.90,724.74a1.7,1.7 0 1,0 3.4,0a1.7,1.7 0 1,0 -3.4,0M62.74,730.84a1.7,1.7 0 1,0 3.4,0a1.7,1.7 0 1,0 -3.4,0M62.07,726.81a1.7,1.7 0 1,0 3.4,0a1.7,1.7 0 1,0 -3.4,0M62.08,735.39a1.7,1.7 0 1,0 3.4,0a1.7,1.7 0 1,0 -3.4,0M74.74,739.94a1.7,1.7 0 1,0 3.4,0a1.7,1.7 0 1,0 -3.4,0M63.21,736.32a1.7,1.7 0 1,0 3.4,0a1.7,1.7 0 1,0 -3.4,0M72.24,724.86a1.7,1.7 0 1,0 3.4,0a1.7,1.7 0 1,0 -3.4,0M76.80,741.35a1.7,1.7 0 1,0 3.4,0a1.7,1.7 0 1,0 -3.4,0M64.22,741.05a1.7,1.7 0 1,0 3.4,0a1.7,1.7 0 1,0 -3.4,0M67.26,731.75a1.7,1.7 0 1,0 3.4,0a1.7,1.7 0 1,0 -3.4,0M79.08,738.65a1.7,1.7 0 1,0 3.4,0a1.7,1.7 0 1,0 -3.4,0M63.32,730.63a1.7,1.7 0 1,0 3.4,0a1.7,1.7 0 1,0 -3.4,0M69.43,728.78a1.7,1.7 0 1,0 3.4,0a1.7,1.7 0 1,0 -3.4,0M63.84,728.37a1.7,1.7 0 1,0 3.4,0a1.7,1.7 0 1,0 -3.4,0M73.48,722.39a1.7,1.7 0 1,0 3.4,0a1.7,1.7 0 1,0 -3.4,0M70.16,730.81a1.7,1.7 0 1,0 3.4,0a1.7,1.7 0 1,0 -3.4,0M61.45,728.63a1.7,1.7 0 1,0 3.4,0a1.7,1.7 0 1,0 -3.4,0M71.52,732.25a1.7,1.7 0 1,0 3.4,0a1.7,1.7 0 1,0 -3.4,0M61.97,741.70a1.7,1.7 0 1,0 3.4,0a1.7,1.7 0 1,0 -3.4,0M74.83,741.43a1.7,1.7 0 1,0 3.4,0a1.7,1.7 0 1,0 -3.4,0M62.50,727.31a1.7,1.7 0 1,0 3.4,0a1.7,1.7 0 1,0 -3.4,0M61.67,737.58a1.7,1.7 0 1,0 3.4,0a1.7,1.7 0 1,0 -3.4,0M65.05,724.59a1.7,1.7 0 1,0 3.4,0a1.7,1.7 0 1,0 -3.4,0M67.70,740.23a1.7,1.7 0 1,0 3.4,0a1.7,1.7 0 1,0 -3.4,0M75.46,727.17a1.7,1.7 0 1,0 3.4,0a1.7,1.7 0 1,0 -3.4,0M63.14,740.38a1.7,1.7 0 1,0 3.4,0a1.7,1.7 0 1,0 -3.4,0M70.48,736.01a1.7,1.7 0 1,0 3.4,0a1.7,1.7 0 1,0 -3.4,0M62.29,723.15a1.7,1.7 0 1,0 3.4,0a1.7,1.7 0 1,0 -3.4,0M72.80,730.51a1.7,1.7 0 1,0 3.4,0a1.7,1.7 0 1,0 -3.4,0M62.07,740.77a1.7,1.7 0 1,0 3.4,0a1.7,1.7 0 1,0 -3.4,0M71.73,738.03a1.7,1.7 0 1,0 3.4,0a1.7,1.7 0 1,0 -3.4,0M62.22,739.12a1.7,1.7 0 1,0 3.4,0a1.7,1.7 0 1,0 -3.4,0M62.00,739.26a1.7,1.7 0 1,0 3.4,0a1.7,1.7 0 1,0 -3.4,0M68.27,728.78a1.7,1.7 0 1,0 3.4,0a1.7,1.7 0 1,0 -3.4,0M70.14,740.53a1.7,1.7 0 1,0 3.4,0a1.7,1.7 0 1,0 -3.4,0M65.00,724.58a1.7,1.7 0 1,0 3.4,0a1.7,1.7 0 1,0 -3.4,0M69.64,726.77a1.7,1.7 0 1,0 3.4,0a1.7,1.7 0 1,0 -3.4,0M62.57,725.23a1.7,1.7 0 1,0 3.4,0a1.7,1.7 0 1,0 -3.4,0M61.80,726.04a1.7,1.7 0 1,0 3.4,0a1.7,1.7 0 1,0 -3.4,0" fill="none" stroke="#ffb3c1" stroke-width="0.85"/>
<rect x="60.60" y="625.30" width="73.10" height="134.10" stroke="#222" stroke-width="1.0" fill="none"/>
<line x1="56.10" y1="647.20" x2="60.60" y2="647.20" stroke="#222" stroke-width="1.0"/>
<text x="51.00" y="647.20" font-size="10.3" text-anchor="middle" transform="rotate(-90 51.00 647.20)" fill="#111" >0.2</text>
<line x1="56.10" y1="672.60" x2="60.60" y2="672.60" stroke="#222" stroke-width="1.0"/>
<line x1="56.10" y1="698.00" x2="60.60" y2="698.00" stroke="#222" stroke-width="1.0"/>
<text x="51.00" y="698.00" font-size="10.3" text-anchor="middle" transform="rotate(-90 51.00 698.00)" fill="#111" >−0.2</text>
<line x1="56.10" y1="723.50" x2="60.60" y2="723.50" stroke="#222" stroke-width="1.0"/>
<line x1="56.10" y1="749.00" x2="60.60" y2="749.00" stroke="#222" stroke-width="1.0"/>
<text x="51.00" y="749.00" font-size="10.3" text-anchor="middle" transform="rotate(-90 51.00 749.00)" fill="#111" >−0.6</text>
<line x1="63.40" y1="759.40" x2="63.40" y2="764.00" stroke="#222" stroke-width="1.0"/>
<text x="63.40" y="774.40" font-size="10.3" text-anchor="middle" fill="#111" >0</text>
<line x1="84.40" y1="759.40" x2="84.40" y2="764.00" stroke="#222" stroke-width="1.0"/>
<text x="84.40" y="774.40" font-size="10.3" text-anchor="middle" fill="#111" >5</text>
<line x1="105.40" y1="759.40" x2="105.40" y2="764.00" stroke="#222" stroke-width="1.0"/>
<text x="105.40" y="774.40" font-size="10.3" text-anchor="middle" fill="#111" >10</text>
<line x1="126.40" y1="759.40" x2="126.40" y2="764.00" stroke="#222" stroke-width="1.0"/>
<line x1="60.60" y1="697.40" x2="133.70" y2="745.60" stroke="#222" stroke-width="1.0"/>
<text x="51.30" y="616.40" font-size="9.6" text-anchor="start" textLength="100.40" lengthAdjust="spacingAndGlyphs" fill="#111" >pink cor=−0.41, p=2.4e−13</text>
<text x="33.00" y="692.35" font-size="11" text-anchor="middle" textLength="75.50" lengthAdjust="spacingAndGlyphs" transform="rotate(-90 33.00 692.35)" fill="#111" >Gene Significance</text>
<text x="97.15" y="790.90" font-size="11" text-anchor="middle" textLength="56.70" lengthAdjust="spacingAndGlyphs" fill="#111" >Connectivity</text>
<path d="M189.20,630.20a1.7,1.7 0 1,0 3.4,0a1.7,1.7 0 1,0 -3.4,0M208.50,630.20a1.7,1.7 0 1,0 3.4,0a1.7,1.7 0 1,0 -3.4,0M189.80,642.70a1.7,1.7 0 1,0 3.4,0a1.7,1.7 0 1,0 -3.4,0M194.30,641.90a1.7,1.7 0 1,0 3.4,0a1.7,1.7 0 1,0 -3.4,0M203.60,641.90a1.7,1.7 0 1,0 3.4,0a1.7,1.7 0 1,0 -3.4,0M200.40,647.40a1.7,1.7 0 1,0 3.4,0a1.7,1.7 0 1,0 -3.4,0M188.80,652.20a1.7,1.7 0 1,0 3.4,0a1.7,1.7 0 1,0 -3.4,0M190.90,653.30a1.7,1.7 0 1,0 3.4,0a1.7,1.7 0 1,0 -3.4,0M192.60,654.40a1.7,1.7 0 1,0 3.4,0a1.7,1.7 0 1,0 -3.4,0M194.50,655.40a1.7,1.7 0 1,0 3.4,0a1.7,1.7 0 1,0 -3.4,0M187.50,660.10a1.7,1.7 0 1,0 3.4,0a1.7,1.7 0 1,0 -3.4,0M191.90,660.70a1.7,1.7 0 1,0 3.4,0a1.7,1.7 0 1,0 -3.4,0M194.70,658.40a1.7,1.7 0 1,0 3.4,0a1.7,1.7 0 1,0 -3.4,0M199.60,661.40a1.7,1.7 0 1,0 3.4,0a1.7,1.7 0 1,0 -3.4,0M187.30,663.90a1.7,1.7 0 1,0 3.4,0a1.7,1.7 0 1,0 -3.4,0M189.80,667.70a1.7,1.7 0 1,0 3.4,0a1.7,1.7 0 1,0 -3.4,0M191.50,669.90a1.7,1.7 0 1,0 3.4,0a1.7,1.7 0 1,0 -3.4,0M194.10,667.70a1.7,1.7 0 1,0 3.4,0a1.7,1.7 0 1,0 -3.4,0M191.90,672.00a1.7,1.7 0 1,0 3.4,0a1.7,1.7 0 1,0 -3.4,0M212.50,668.20a1.7,1.7 0 1,0 3.4,0a1.7,1.7 0 1,0 -3.4,0M189.00,678.30a1.7,1.7 0 1,0 3.4,0a1.7,1.7 0 1,0 -3.4,0M197.70,677.70a1.7,1.7 0 1,0 3.4,0a1.7,1.7 0 1,0 -3.4,0M203.60,677.70a1.7,1.7 0 1,0 3.4,0a1.7,1.7 0 1,0 -3.4,0M215.70,677.30a1.7,1.7 0 1,0 3.4,0a1.7,1.7 0 1,0 -3.4,0M187.70,681.10a1.7,1.7 0 1,0 3.4,0a1.7,1.7 0 1,0 -3.4,0M195.10,681.90a1.7,1.7 0 1,0 3.4,0a1.7,1.7 0 1,0 -3.4,0M202.50,681.50a1.7,1.7 0 1,0 3.4,0a1.7,1.7 0 1,0 -3.4,0M204.70,683.00a1.7,1.7 0 1,0 3.4,0a1.7,1.7 0 1,0 -3.4,0M213.20,682.60a1.7,1.7 0 1,0 3.4,0a1.7,1.7 0 1,0 -3.4,0M224.20,683.00a1.7,1.7 0 1,0 3.4,0a1.7,1.7 0 1,0 -3.4,0M205.70,684.70a1.7,1.7 0 1,0 3.4,0a1.7,1.7 0 1,0 -3.4,0M198.90,688.30a1.7,1.7 0 1,0 3.4,0a1.7,1.7 0 1,0 -3.4,0M222.70,688.30a1.7,1.7 0 1,0 3.4,0a1.7,1.7 0 1,0 -3.4,0M224.20,688.30a1.7,1.7 0 1,0 3.4,0a1.7,1.7 0 1,0 -3.4,0M254.90,687.50a1.7,1.7 0 1,0 3.4,0a1.7,1.7 0 1,0 -3.4,0M189.40,692.80a1.7,1.7 0 1,0 3.4,0a1.7,1.7 0 1,0 -3.4,0M191.10,694.20a1.7,1.7 0 1,0 3.4,0a1.7,1.7 0 1,0 -3.4,0M190.50,692.10a1.7,1.7 0 1,0 3.4,0a1.7,1.7 0 1,0 -3.4,0M191.90,690.00a1.7,1.7 0 1,0 3.4,0a1.7,1.7 0 1,0 -3.4,0M194.30,692.80a1.7,1.7 0 1,0 3.4,0a1.7,1.7 0 1,0 -3.4,0M198.30,697.40a1.7,1.7 0 1,0 3.4,0a1.7,1.7 0 1,0 -3.4,0M229.10,695.30a1.7,1.7 0 1,0 3.4,0a1.7,1.7 0 1,0 -3.4,0M238.20,696.80a1.7,1.7 0 1,0 3.4,0a1.7,1.7 0 1,0 -3.4,0M216.30,699.10a1.7,1.7 0 1,0 3.4,0a1.7,1.7 0 1,0 -3.4,0M219.50,700.20a1.7,1.7 0 1,0 3.4,0a1.7,1.7 0 1,0 -3.4,0M196.20,700.60a1.7,1.7 0 1,0 3.4,0a1.7,1.7 0 1,0 -3.4,0M195.10,705.50a1.7,1.7 0 1,0 3.4,0a1.7,1.7 0 1,0 -3.4,0M197.20,703.80a1.7,1.7 0 1,0 3.4,0a1.7,1.7 0 1,0 -3.4,0M212.70,705.90a1.7,1.7 0 1,0 3.4,0a1.7,1.7 0 1,0 -3.4,0M215.30,704.90a1.7,1.7 0 1,0 3.4,0a1.7,1.7 0 1,0 -3.4,0M220.80,705.90a1.7,1.7 0 1,0 3.4,0a1.7,1.7 0 1,0 -3.4,0M210.00,708.70a1.7,1.7 0 1,0 3.4,0a1.7,1.7 0 1,0 -3.4,0M187.70,708.70a1.7,1.7 0 1,0 3.4,0a1.7,1.7 0 1,0 -3.4,0M188.50,712.70a1.7,1.7 0 1,0 3.4,0a1.7,1.7 0 1,0 -3.4,0M189.60,713.60a1.7,1.7 0 1,0 3.4,0a1.7,1.7 0 1,0 -3.4,0M200.00,711.60a1.7,1.7 0 1,0 3.4,0a1.7,1.7 0 1,0 -3.4,0M194.30,715.30a1.7,1.7 0 1,0 3.4,0a1.7,1.7 0 1,0 -3.4,0M208.90,715.90a1.7,1.7 0 1,0 3.4,0a1.7,1.7 0 1,0 -3.4,0M192.40,720.80a1.7,1.7 0 1,0 3.4,0a1.7,1.7 0 1,0 -3.4,0M220.20,719.70a1.7,1.7 0 1,0 3.4,0a1.7,1.7 0 1,0 -3.4,0M201.50,724.00a1.7,1.7 0 1,0 3.4,0a1.7,1.7 0 1,0 -3.4,0M202.10,725.00a1.7,1.7 0 1,0 3.4,0a1.7,1.7 0 1,0 -3.4,0M221.80,724.40a1.7,1.7 0 1,0 3.4,0a1.7,1.7 0 1,0 -3.4,0M197.70,729.70a1.7,1.7 0 1,0 3.4,0a1.7,1.7 0 1,0 -3.4,0M216.10,732.00a1.7,1.7 0 1,0 3.4,0a1.7,1.7 0 1,0 -3.4,0M208.90,754.70a1.7,1.7 0 1,0 3.4,0a1.7,1.7 0 1,0 -3.4,0" fill="none" stroke="#ffff00" stroke-width="0.95"/>
<rect x="186.90" y="625.30" width="72.50" height="134.10" stroke="#222" stroke-width="1.0" fill="none"/>
<line x1="182.40" y1="648.20" x2="186.90" y2="648.20" stroke="#222" stroke-width="1.0"/>
<text x="177.30" y="648.20" font-size="10.3" text-anchor="middle" transform="rotate(-90 177.30 648.20)" fill="#111" >0.4</text>
<line x1="182.40" y1="680.30" x2="186.90" y2="680.30" stroke="#222" stroke-width="1.0"/>
<text x="177.30" y="680.30" font-size="10.3" text-anchor="middle" transform="rotate(-90 177.30 680.30)" fill="#111" >0.2</text>
<line x1="182.40" y1="712.30" x2="186.90" y2="712.30" stroke="#222" stroke-width="1.0"/>
<text x="177.30" y="712.30" font-size="10.3" text-anchor="middle" transform="rotate(-90 177.30 712.30)" fill="#111" >0.0</text>
<line x1="182.40" y1="744.20" x2="186.90" y2="744.20" stroke="#222" stroke-width="1.0"/>
<text x="177.30" y="744.20" font-size="10.3" text-anchor="middle" transform="rotate(-90 177.30 744.20)" fill="#111" >−0.2</text>
<line x1="186.90" y1="759.40" x2="186.90" y2="764.00" stroke="#222" stroke-width="1.0"/>
<text x="186.90" y="774.40" font-size="10.3" text-anchor="middle" fill="#111" >0.0</text>
<line x1="196.66" y1="759.40" x2="196.66" y2="764.00" stroke="#222" stroke-width="1.0"/>
<line x1="206.42" y1="759.40" x2="206.42" y2="764.00" stroke="#222" stroke-width="1.0"/>
<line x1="216.18" y1="759.40" x2="216.18" y2="764.00" stroke="#222" stroke-width="1.0"/>
<text x="216.18" y="774.40" font-size="10.3" text-anchor="middle" fill="#111" >1.5</text>
<line x1="225.94" y1="759.40" x2="225.94" y2="764.00" stroke="#222" stroke-width="1.0"/>
<line x1="235.70" y1="759.40" x2="235.70" y2="764.00" stroke="#222" stroke-width="1.0"/>
<line x1="245.46" y1="759.40" x2="245.46" y2="764.00" stroke="#222" stroke-width="1.0"/>
<text x="245.46" y="774.40" font-size="10.3" text-anchor="middle" fill="#111" >3.0</text>
<line x1="255.22" y1="759.40" x2="255.22" y2="764.00" stroke="#222" stroke-width="1.0"/>
<line x1="186.90" y1="678.30" x2="259.40" y2="714.80" stroke="#222" stroke-width="1.0"/>
<text x="177.50" y="616.40" font-size="9.6" text-anchor="start" textLength="100.80" lengthAdjust="spacingAndGlyphs" fill="#111" >yellow cor=−0.27, p=0.028</text>
<text x="159.30" y="692.35" font-size="11" text-anchor="middle" textLength="75.50" lengthAdjust="spacingAndGlyphs" transform="rotate(-90 159.30 692.35)" fill="#111" >Gene Significance</text>
<text x="223.15" y="790.90" font-size="11" text-anchor="middle" textLength="56.70" lengthAdjust="spacingAndGlyphs" fill="#111" >Connectivity</text>
<path d="M319.50,630.20a1.7,1.7 0 1,0 3.4,0a1.7,1.7 0 1,0 -3.4,0M315.30,641.90a1.7,1.7 0 1,0 3.4,0a1.7,1.7 0 1,0 -3.4,0M333.90,644.40a1.7,1.7 0 1,0 3.4,0a1.7,1.7 0 1,0 -3.4,0M316.90,648.20a1.7,1.7 0 1,0 3.4,0a1.7,1.7 0 1,0 -3.4,0M320.80,646.10a1.7,1.7 0 1,0 3.4,0a1.7,1.7 0 1,0 -3.4,0M325.40,647.20a1.7,1.7 0 1,0 3.4,0a1.7,1.7 0 1,0 -3.4,0M327.50,648.20a1.7,1.7 0 1,0 3.4,0a1.7,1.7 0 1,0 -3.4,0M329.70,649.10a1.7,1.7 0 1,0 3.4,0a1.7,1.7 0 1,0 -3.4,0M315.50,651.80a1.7,1.7 0 1,0 3.4,0a1.7,1.7 0 1,0 -3.4,0M322.20,654.60a1.7,1.7 0 1,0 3.4,0a1.7,1.7 0 1,0 -3.4,0M327.50,655.40a1.7,1.7 0 1,0 3.4,0a1.7,1.7 0 1,0 -3.4,0M313.80,656.70a1.7,1.7 0 1,0 3.4,0a1.7,1.7 0 1,0 -3.4,0M316.90,657.10a1.7,1.7 0 1,0 3.4,0a1.7,1.7 0 1,0 -3.4,0M319.10,658.20a1.7,1.7 0 1,0 3.4,0a1.7,1.7 0 1,0 -3.4,0M323.30,657.10a1.7,1.7 0 1,0 3.4,0a1.7,1.7 0 1,0 -3.4,0M325.80,658.80a1.7,1.7 0 1,0 3.4,0a1.7,1.7 0 1,0 -3.4,0M335.00,656.70a1.7,1.7 0 1,0 3.4,0a1.7,1.7 0 1,0 -3.4,0M351.90,659.20a1.7,1.7 0 1,0 3.4,0a1.7,1.7 0 1,0 -3.4,0M321.20,660.30a1.7,1.7 0 1,0 3.4,0a1.7,1.7 0 1,0 -3.4,0M325.40,661.40a1.7,1.7 0 1,0 3.4,0a1.7,1.7 0 1,0 -3.4,0M337.10,660.70a1.7,1.7 0 1,0 3.4,0a1.7,1.7 0 1,0 -3.4,0M314.40,663.90a1.7,1.7 0 1,0 3.4,0a1.7,1.7 0 1,0 -3.4,0M330.10,663.90a1.7,1.7 0 1,0 3.4,0a1.7,1.7 0 1,0 -3.4,0M326.50,665.20a1.7,1.7 0 1,0 3.4,0a1.7,1.7 0 1,0 -3.4,0M321.60,666.70a1.7,1.7 0 1,0 3.4,0a1.7,1.7 0 1,0 -3.4,0M335.00,666.20a1.7,1.7 0 1,0 3.4,0a1.7,1.7 0 1,0 -3.4,0M315.20,669.90a1.7,1.7 0 1,0 3.4,0a1.7,1.7 0 1,0 -3.4,0M318.00,672.00a1.7,1.7 0 1,0 3.4,0a1.7,1.7 0 1,0 -3.4,0M323.30,672.00a1.7,1.7 0 1,0 3.4,0a1.7,1.7 0 1,0 -3.4,0M325.40,670.90a1.7,1.7 0 1,0 3.4,0a1.7,1.7 0 1,0 -3.4,0M314.80,673.00a1.7,1.7 0 1,0 3.4,0a1.7,1.7 0 1,0 -3.4,0M327.50,674.10a1.7,1.7 0 1,0 3.4,0a1.7,1.7 0 1,0 -3.4,0M334.30,674.10a1.7,1.7 0 1,0 3.4,0a1.7,1.7 0 1,0 -3.4,0M338.20,675.20a1.7,1.7 0 1,0 3.4,0a1.7,1.7 0 1,0 -3.4,0M339.20,674.10a1.7,1.7 0 1,0 3.4,0a1.7,1.7 0 1,0 -3.4,0M348.80,673.00a1.7,1.7 0 1,0 3.4,0a1.7,1.7 0 1,0 -3.4,0M345.20,676.60a1.7,1.7 0 1,0 3.4,0a1.7,1.7 0 1,0 -3.4,0M358.30,670.90a1.7,1.7 0 1,0 3.4,0a1.7,1.7 0 1,0 -3.4,0M353.00,686.20a1.7,1.7 0 1,0 3.4,0a1.7,1.7 0 1,0 -3.4,0M357.90,684.10a1.7,1.7 0 1,0 3.4,0a1.7,1.7 0 1,0 -3.4,0M339.20,688.30a1.7,1.7 0 1,0 3.4,0a1.7,1.7 0 1,0 -3.4,0M337.10,690.40a1.7,1.7 0 1,0 3.4,0a1.7,1.7 0 1,0 -3.4,0M358.90,692.10a1.7,1.7 0 1,0 3.4,0a1.7,1.7 0 1,0 -3.4,0M378.50,702.70a1.7,1.7 0 1,0 3.4,0a1.7,1.7 0 1,0 -3.4,0M381.00,703.80a1.7,1.7 0 1,0 3.4,0a1.7,1.7 0 1,0 -3.4,0M316.10,754.70a1.7,1.7 0 1,0 3.4,0a1.7,1.7 0 1,0 -3.4,0M346.64,712.28a1.7,1.7 0 1,0 3.4,0a1.7,1.7 0 1,0 -3.4,0M347.06,713.34a1.7,1.7 0 1,0 3.4,0a1.7,1.7 0 1,0 -3.4,0M355.12,713.98a1.7,1.7 0 1,0 3.4,0a1.7,1.7 0 1,0 -3.4,0M351.94,714.83a1.7,1.7 0 1,0 3.4,0a1.7,1.7 0 1,0 -3.4,0M363.19,714.83a1.7,1.7 0 1,0 3.4,0a1.7,1.7 0 1,0 -3.4,0M366.16,712.28a1.7,1.7 0 1,0 3.4,0a1.7,1.7 0 1,0 -3.4,0M368.06,707.40a1.7,1.7 0 1,0 3.4,0a1.7,1.7 0 1,0 -3.4,0M339.21,699.55a1.7,1.7 0 1,0 3.4,0a1.7,1.7 0 1,0 -3.4,0M344.94,702.73a1.7,1.7 0 1,0 3.4,0a1.7,1.7 0 1,0 -3.4,0M346.00,705.49a1.7,1.7 0 1,0 3.4,0a1.7,1.7 0 1,0 -3.4,0M351.31,702.10a1.7,1.7 0 1,0 3.4,0a1.7,1.7 0 1,0 -3.4,0M355.55,701.67a1.7,1.7 0 1,0 3.4,0a1.7,1.7 0 1,0 -3.4,0M336.03,706.98a1.7,1.7 0 1,0 3.4,0a1.7,1.7 0 1,0 -3.4,0M340.27,707.61a1.7,1.7 0 1,0 3.4,0a1.7,1.7 0 1,0 -3.4,0M334.97,713.98a1.7,1.7 0 1,0 3.4,0a1.7,1.7 0 1,0 -3.4,0M324.79,718.64a1.7,1.7 0 1,0 3.4,0a1.7,1.7 0 1,0 -3.4,0M327.12,717.58a1.7,1.7 0 1,0 3.4,0a1.7,1.7 0 1,0 -3.4,0M329.67,719.71a1.7,1.7 0 1,0 3.4,0a1.7,1.7 0 1,0 -3.4,0M332.85,717.58a1.7,1.7 0 1,0 3.4,0a1.7,1.7 0 1,0 -3.4,0M336.03,719.71a1.7,1.7 0 1,0 3.4,0a1.7,1.7 0 1,0 -3.4,0M317.58,720.34a1.7,1.7 0 1,0 3.4,0a1.7,1.7 0 1,0 -3.4,0M316.94,725.43a1.7,1.7 0 1,0 3.4,0a1.7,1.7 0 1,0 -3.4,0M319.06,727.13a1.7,1.7 0 1,0 3.4,0a1.7,1.7 0 1,0 -3.4,0M320.76,726.07a1.7,1.7 0 1,0 3.4,0a1.7,1.7 0 1,0 -3.4,0M318.00,734.55a1.7,1.7 0 1,0 3.4,0a1.7,1.7 0 1,0 -3.4,0M322.67,739.86a1.7,1.7 0 1,0 3.4,0a1.7,1.7 0 1,0 -3.4,0M333.49,737.74a1.7,1.7 0 1,0 3.4,0a1.7,1.7 0 1,0 -3.4,0M330.73,701.25a1.7,1.7 0 1,0 3.4,0a1.7,1.7 0 1,0 -3.4,0M328.61,710.16a1.7,1.7 0 1,0 3.4,0a1.7,1.7 0 1,0 -3.4,0M324.36,713.34a1.7,1.7 0 1,0 3.4,0a1.7,1.7 0 1,0 -3.4,0M325.43,705.92a1.7,1.7 0 1,0 3.4,0a1.7,1.7 0 1,0 -3.4,0M315.64,678.98a1.7,1.7 0 1,0 3.4,0a1.7,1.7 0 1,0 -3.4,0M321.07,678.44a1.7,1.7 0 1,0 3.4,0a1.7,1.7 0 1,0 -3.4,0M317.81,674.40a1.7,1.7 0 1,0 3.4,0a1.7,1.7 0 1,0 -3.4,0M316.03,668.65a1.7,1.7 0 1,0 3.4,0a1.7,1.7 0 1,0 -3.4,0M314.98,668.55a1.7,1.7 0 1,0 3.4,0a1.7,1.7 0 1,0 -3.4,0M320.72,687.84a1.7,1.7 0 1,0 3.4,0a1.7,1.7 0 1,0 -3.4,0M314.36,685.09a1.7,1.7 0 1,0 3.4,0a1.7,1.7 0 1,0 -3.4,0M323.40,671.83a1.7,1.7 0 1,0 3.4,0a1.7,1.7 0 1,0 -3.4,0M321.85,683.56a1.7,1.7 0 1,0 3.4,0a1.7,1.7 0 1,0 -3.4,0M317.75,698.05a1.7,1.7 0 1,0 3.4,0a1.7,1.7 0 1,0 -3.4,0M316.55,686.24a1.7,1.7 0 1,0 3.4,0a1.7,1.7 0 1,0 -3.4,0M320.14,703.37a1.7,1.7 0 1,0 3.4,0a1.7,1.7 0 1,0 -3.4,0M315.98,697.96a1.7,1.7 0 1,0 3.4,0a1.7,1.7 0 1,0 -3.4,0M320.38,690.90a1.7,1.7 0 1,0 3.4,0a1.7,1.7 0 1,0 -3.4,0M316.68,680.51a1.7,1.7 0 1,0 3.4,0a1.7,1.7 0 1,0 -3.4,0M313.15,672.67a1.7,1.7 0 1,0 3.4,0a1.7,1.7 0 1,0 -3.4,0M313.28,694.67a1.7,1.7 0 1,0 3.4,0a1.7,1.7 0 1,0 -3.4,0M315.04,673.88a1.7,1.7 0 1,0 3.4,0a1.7,1.7 0 1,0 -3.4,0M313.39,698.29a1.7,1.7 0 1,0 3.4,0a1.7,1.7 0 1,0 -3.4,0M322.54,692.14a1.7,1.7 0 1,0 3.4,0a1.7,1.7 0 1,0 -3.4,0M315.32,676.72a1.7,1.7 0 1,0 3.4,0a1.7,1.7 0 1,0 -3.4,0M315.44,684.54a1.7,1.7 0 1,0 3.4,0a1.7,1.7 0 1,0 -3.4,0M314.05,684.05a1.7,1.7 0 1,0 3.4,0a1.7,1.7 0 1,0 -3.4,0M315.12,702.62a1.7,1.7 0 1,0 3.4,0a1.7,1.7 0 1,0 -3.4,0M323.92,687.69a1.7,1.7 0 1,0 3.4,0a1.7,1.7 0 1,0 -3.4,0M314.92,702.76a1.7,1.7 0 1,0 3.4,0a1.7,1.7 0 1,0 -3.4,0M315.62,680.84a1.7,1.7 0 1,0 3.4,0a1.7,1.7 0 1,0 -3.4,0M312.80,681.74a1.7,1.7 0 1,0 3.4,0a1.7,1.7 0 1,0 -3.4,0M317.50,686.10a1.7,1.7 0 1,0 3.4,0a1.7,1.7 0 1,0 -3.4,0M314.48,686.17a1.7,1.7 0 1,0 3.4,0a1.7,1.7 0 1,0 -3.4,0M312.82,677.51a1.7,1.7 0 1,0 3.4,0a1.7,1.7 0 1,0 -3.4,0M313.44,682.38a1.7,1.7 0 1,0 3.4,0a1.7,1.7 0 1,0 -3.4,0M313.05,668.81a1.7,1.7 0 1,0 3.4,0a1.7,1.7 0 1,0 -3.4,0M315.56,676.38a1.7,1.7 0 1,0 3.4,0a1.7,1.7 0 1,0 -3.4,0M318.85,687.05a1.7,1.7 0 1,0 3.4,0a1.7,1.7 0 1,0 -3.4,0M320.95,691.67a1.7,1.7 0 1,0 3.4,0a1.7,1.7 0 1,0 -3.4,0M320.50,699.65a1.7,1.7 0 1,0 3.4,0a1.7,1.7 0 1,0 -3.4,0M316.51,679.74a1.7,1.7 0 1,0 3.4,0a1.7,1.7 0 1,0 -3.4,0M324.09,673.38a1.7,1.7 0 1,0 3.4,0a1.7,1.7 0 1,0 -3.4,0M320.61,691.16a1.7,1.7 0 1,0 3.4,0a1.7,1.7 0 1,0 -3.4,0M313.07,698.07a1.7,1.7 0 1,0 3.4,0a1.7,1.7 0 1,0 -3.4,0M322.83,690.58a1.7,1.7 0 1,0 3.4,0a1.7,1.7 0 1,0 -3.4,0M320.73,697.24a1.7,1.7 0 1,0 3.4,0a1.7,1.7 0 1,0 -3.4,0M313.88,686.86a1.7,1.7 0 1,0 3.4,0a1.7,1.7 0 1,0 -3.4,0M317.86,698.06a1.7,1.7 0 1,0 3.4,0a1.7,1.7 0 1,0 -3.4,0M321.66,697.75a1.7,1.7 0 1,0 3.4,0a1.7,1.7 0 1,0 -3.4,0M318.83,700.14a1.7,1.7 0 1,0 3.4,0a1.7,1.7 0 1,0 -3.4,0M320.08,692.96a1.7,1.7 0 1,0 3.4,0a1.7,1.7 0 1,0 -3.4,0M314.77,669.12a1.7,1.7 0 1,0 3.4,0a1.7,1.7 0 1,0 -3.4,0M313.82,680.99a1.7,1.7 0 1,0 3.4,0a1.7,1.7 0 1,0 -3.4,0M313.57,698.09a1.7,1.7 0 1,0 3.4,0a1.7,1.7 0 1,0 -3.4,0M318.52,690.60a1.7,1.7 0 1,0 3.4,0a1.7,1.7 0 1,0 -3.4,0M319.36,692.50a1.7,1.7 0 1,0 3.4,0a1.7,1.7 0 1,0 -3.4,0M317.68,668.12a1.7,1.7 0 1,0 3.4,0a1.7,1.7 0 1,0 -3.4,0M321.57,694.94a1.7,1.7 0 1,0 3.4,0a1.7,1.7 0 1,0 -3.4,0M317.84,687.27a1.7,1.7 0 1,0 3.4,0a1.7,1.7 0 1,0 -3.4,0M319.78,670.38a1.7,1.7 0 1,0 3.4,0a1.7,1.7 0 1,0 -3.4,0M320.77,677.08a1.7,1.7 0 1,0 3.4,0a1.7,1.7 0 1,0 -3.4,0M313.31,677.56a1.7,1.7 0 1,0 3.4,0a1.7,1.7 0 1,0 -3.4,0M320.67,675.39a1.7,1.7 0 1,0 3.4,0a1.7,1.7 0 1,0 -3.4,0M320.81,703.13a1.7,1.7 0 1,0 3.4,0a1.7,1.7 0 1,0 -3.4,0M317.73,681.77a1.7,1.7 0 1,0 3.4,0a1.7,1.7 0 1,0 -3.4,0M317.55,692.61a1.7,1.7 0 1,0 3.4,0a1.7,1.7 0 1,0 -3.4,0M321.16,690.21a1.7,1.7 0 1,0 3.4,0a1.7,1.7 0 1,0 -3.4,0M319.57,670.79a1.7,1.7 0 1,0 3.4,0a1.7,1.7 0 1,0 -3.4,0M314.50,705.56a1.7,1.7 0 1,0 3.4,0a1.7,1.7 0 1,0 -3.4,0M321.35,706.26a1.7,1.7 0 1,0 3.4,0a1.7,1.7 0 1,0 -3.4,0M319.33,702.17a1.7,1.7 0 1,0 3.4,0a1.7,1.7 0 1,0 -3.4,0M313.50,705.76a1.7,1.7 0 1,0 3.4,0a1.7,1.7 0 1,0 -3.4,0M320.53,711.69a1.7,1.7 0 1,0 3.4,0a1.7,1.7 0 1,0 -3.4,0M320.57,706.07a1.7,1.7 0 1,0 3.4,0a1.7,1.7 0 1,0 -3.4,0M318.74,708.51a1.7,1.7 0 1,0 3.4,0a1.7,1.7 0 1,0 -3.4,0M318.16,703.66a1.7,1.7 0 1,0 3.4,0a1.7,1.7 0 1,0 -3.4,0M323.08,704.79a1.7,1.7 0 1,0 3.4,0a1.7,1.7 0 1,0 -3.4,0M324.05,715.11a1.7,1.7 0 1,0 3.4,0a1.7,1.7 0 1,0 -3.4,0M320.58,684.85a1.7,1.7 0 1,0 3.4,0a1.7,1.7 0 1,0 -3.4,0M333.42,699.11a1.7,1.7 0 1,0 3.4,0a1.7,1.7 0 1,0 -3.4,0M327.49,679.52a1.7,1.7 0 1,0 3.4,0a1.7,1.7 0 1,0 -3.4,0M323.66,698.48a1.7,1.7 0 1,0 3.4,0a1.7,1.7 0 1,0 -3.4,0M323.67,688.28a1.7,1.7 0 1,0 3.4,0a1.7,1.7 0 1,0 -3.4,0M322.57,686.67a1.7,1.7 0 1,0 3.4,0a1.7,1.7 0 1,0 -3.4,0M335.54,675.71a1.7,1.7 0 1,0 3.4,0a1.7,1.7 0 1,0 -3.4,0M333.42,686.24a1.7,1.7 0 1,0 3.4,0a1.7,1.7 0 1,0 -3.4,0M334.49,691.69a1.7,1.7 0 1,0 3.4,0a1.7,1.7 0 1,0 -3.4,0M324.00,697.14a1.7,1.7 0 1,0 3.4,0a1.7,1.7 0 1,0 -3.4,0" fill="none" stroke="#0000ff" stroke-width="0.85"/>
<rect x="312.40" y="625.30" width="72.90" height="134.10" stroke="#222" stroke-width="1.0" fill="none"/>
<line x1="307.90" y1="630.20" x2="312.40" y2="630.20" stroke="#222" stroke-width="1.0"/>
<text x="302.80" y="630.20" font-size="10.3" text-anchor="middle" transform="rotate(-90 302.80 630.20)" fill="#111" >0.4</text>
<line x1="307.90" y1="659.30" x2="312.40" y2="659.30" stroke="#222" stroke-width="1.0"/>
<text x="302.80" y="659.30" font-size="10.3" text-anchor="middle" transform="rotate(-90 302.80 659.30)" fill="#111" >0.2</text>
<line x1="307.90" y1="688.40" x2="312.40" y2="688.40" stroke="#222" stroke-width="1.0"/>
<text x="302.80" y="688.40" font-size="10.3" text-anchor="middle" transform="rotate(-90 302.80 688.40)" fill="#111" >0.0</text>
<line x1="307.90" y1="717.50" x2="312.40" y2="717.50" stroke="#222" stroke-width="1.0"/>
<text x="302.80" y="717.50" font-size="10.3" text-anchor="middle" transform="rotate(-90 302.80 717.50)" fill="#111" >−0.2</text>
<line x1="307.90" y1="746.60" x2="312.40" y2="746.60" stroke="#222" stroke-width="1.0"/>
<text x="302.80" y="746.60" font-size="10.3" text-anchor="middle" transform="rotate(-90 302.80 746.60)" fill="#111" >−0.4</text>
<line x1="314.50" y1="759.40" x2="314.50" y2="764.00" stroke="#222" stroke-width="1.0"/>
<text x="314.50" y="774.40" font-size="10.3" text-anchor="middle" fill="#111" >0</text>
<line x1="328.22" y1="759.40" x2="328.22" y2="764.00" stroke="#222" stroke-width="1.0"/>
<line x1="341.94" y1="759.40" x2="341.94" y2="764.00" stroke="#222" stroke-width="1.0"/>
<text x="341.94" y="774.40" font-size="10.3" text-anchor="middle" fill="#111" >2</text>
<line x1="355.66" y1="759.40" x2="355.66" y2="764.00" stroke="#222" stroke-width="1.0"/>
<line x1="369.38" y1="759.40" x2="369.38" y2="764.00" stroke="#222" stroke-width="1.0"/>
<text x="369.38" y="774.40" font-size="10.3" text-anchor="middle" fill="#111" >4</text>
<line x1="383.10" y1="759.40" x2="383.10" y2="764.00" stroke="#222" stroke-width="1.0"/>
<line x1="312.40" y1="684.70" x2="385.30" y2="701.25" stroke="#222" stroke-width="1.0"/>
<text x="311.70" y="616.40" font-size="9.6" text-anchor="start" textLength="81.10" lengthAdjust="spacingAndGlyphs" fill="#111" >blue cor=−0.13, p=0.1</text>
<text x="284.80" y="692.35" font-size="11" text-anchor="middle" textLength="75.50" lengthAdjust="spacingAndGlyphs" transform="rotate(-90 284.80 692.35)" fill="#111" >Gene Significance</text>
<text x="348.85" y="790.90" font-size="11" text-anchor="middle" textLength="56.70" lengthAdjust="spacingAndGlyphs" fill="#111" >Connectivity</text>
<path d="M480.00,630.20a1.7,1.7 0 1,0 3.4,0a1.7,1.7 0 1,0 -3.4,0M483.60,635.50a1.7,1.7 0 1,0 3.4,0a1.7,1.7 0 1,0 -3.4,0M500.40,633.60a1.7,1.7 0 1,0 3.4,0a1.7,1.7 0 1,0 -3.4,0M501.30,639.10a1.7,1.7 0 1,0 3.4,0a1.7,1.7 0 1,0 -3.4,0M506.80,645.20a1.7,1.7 0 1,0 3.4,0a1.7,1.7 0 1,0 -3.4,0M464.10,647.20a1.7,1.7 0 1,0 3.4,0a1.7,1.7 0 1,0 -3.4,0M467.70,652.50a1.7,1.7 0 1,0 3.4,0a1.7,1.7 0 1,0 -3.4,0M470.90,653.90a1.7,1.7 0 1,0 3.4,0a1.7,1.7 0 1,0 -3.4,0M474.50,656.70a1.7,1.7 0 1,0 3.4,0a1.7,1.7 0 1,0 -3.4,0M486.60,656.70a1.7,1.7 0 1,0 3.4,0a1.7,1.7 0 1,0 -3.4,0M488.70,658.80a1.7,1.7 0 1,0 3.4,0a1.7,1.7 0 1,0 -3.4,0M458.60,658.60a1.7,1.7 0 1,0 3.4,0a1.7,1.7 0 1,0 -3.4,0M460.70,658.60a1.7,1.7 0 1,0 3.4,0a1.7,1.7 0 1,0 -3.4,0M455.80,664.80a1.7,1.7 0 1,0 3.4,0a1.7,1.7 0 1,0 -3.4,0M459.90,665.00a1.7,1.7 0 1,0 3.4,0a1.7,1.7 0 1,0 -3.4,0M456.30,671.80a1.7,1.7 0 1,0 3.4,0a1.7,1.7 0 1,0 -3.4,0M451.20,673.70a1.7,1.7 0 1,0 3.4,0a1.7,1.7 0 1,0 -3.4,0M453.30,675.60a1.7,1.7 0 1,0 3.4,0a1.7,1.7 0 1,0 -3.4,0M469.80,670.70a1.7,1.7 0 1,0 3.4,0a1.7,1.7 0 1,0 -3.4,0M446.10,680.90a1.7,1.7 0 1,0 3.4,0a1.7,1.7 0 1,0 -3.4,0M453.30,685.60a1.7,1.7 0 1,0 3.4,0a1.7,1.7 0 1,0 -3.4,0M458.20,690.40a1.7,1.7 0 1,0 3.4,0a1.7,1.7 0 1,0 -3.4,0M443.10,694.70a1.7,1.7 0 1,0 3.4,0a1.7,1.7 0 1,0 -3.4,0M444.20,695.90a1.7,1.7 0 1,0 3.4,0a1.7,1.7 0 1,0 -3.4,0M446.50,696.80a1.7,1.7 0 1,0 3.4,0a1.7,1.7 0 1,0 -3.4,0M447.60,696.80a1.7,1.7 0 1,0 3.4,0a1.7,1.7 0 1,0 -3.4,0M440.20,705.50a1.7,1.7 0 1,0 3.4,0a1.7,1.7 0 1,0 -3.4,0M448.40,704.20a1.7,1.7 0 1,0 3.4,0a1.7,1.7 0 1,0 -3.4,0M445.20,709.70a1.7,1.7 0 1,0 3.4,0a1.7,1.7 0 1,0 -3.4,0M440.20,723.70a1.7,1.7 0 1,0 3.4,0a1.7,1.7 0 1,0 -3.4,0M440.60,729.30a1.7,1.7 0 1,0 3.4,0a1.7,1.7 0 1,0 -3.4,0M441.20,732.20a1.7,1.7 0 1,0 3.4,0a1.7,1.7 0 1,0 -3.4,0M438.90,734.80a1.7,1.7 0 1,0 3.4,0a1.7,1.7 0 1,0 -3.4,0M439.10,742.60a1.7,1.7 0 1,0 3.4,0a1.7,1.7 0 1,0 -3.4,0M439.10,747.90a1.7,1.7 0 1,0 3.4,0a1.7,1.7 0 1,0 -3.4,0M439.10,754.70a1.7,1.7 0 1,0 3.4,0a1.7,1.7 0 1,0 -3.4,0" fill="none" stroke="#00ee00" stroke-width="0.85"/>
<rect x="438.70" y="625.30" width="72.90" height="134.10" stroke="#222" stroke-width="1.0" fill="none"/>
<line x1="434.20" y1="630.60" x2="438.70" y2="630.60" stroke="#222" stroke-width="1.0"/>
<text x="429.10" y="630.60" font-size="10.3" text-anchor="middle" transform="rotate(-90 429.10 630.60)" fill="#111" >0.7</text>
<line x1="434.20" y1="650.60" x2="438.70" y2="650.60" stroke="#222" stroke-width="1.0"/>
<line x1="434.20" y1="670.60" x2="438.70" y2="670.60" stroke="#222" stroke-width="1.0"/>
<text x="429.10" y="670.60" font-size="10.3" text-anchor="middle" transform="rotate(-90 429.10 670.60)" fill="#111" >0.5</text>
<line x1="434.20" y1="690.60" x2="438.70" y2="690.60" stroke="#222" stroke-width="1.0"/>
<line x1="434.20" y1="710.60" x2="438.70" y2="710.60" stroke="#222" stroke-width="1.0"/>
<text x="429.10" y="710.60" font-size="10.3" text-anchor="middle" transform="rotate(-90 429.10 710.60)" fill="#111" >0.3</text>
<line x1="434.20" y1="730.60" x2="438.70" y2="730.60" stroke="#222" stroke-width="1.0"/>
<line x1="434.20" y1="750.60" x2="438.70" y2="750.60" stroke="#222" stroke-width="1.0"/>
<text x="429.10" y="750.60" font-size="10.3" text-anchor="middle" transform="rotate(-90 429.10 750.60)" fill="#111" >0.1</text>
<line x1="440.60" y1="759.40" x2="440.60" y2="764.00" stroke="#222" stroke-width="1.0"/>
<text x="440.60" y="774.40" font-size="10.3" text-anchor="middle" fill="#111" >0.0</text>
<line x1="462.93" y1="759.40" x2="462.93" y2="764.00" stroke="#222" stroke-width="1.0"/>
<line x1="485.26" y1="759.40" x2="485.26" y2="764.00" stroke="#222" stroke-width="1.0"/>
<text x="485.26" y="774.40" font-size="10.3" text-anchor="middle" fill="#111" >1.0</text>
<line x1="507.59" y1="759.40" x2="507.59" y2="764.00" stroke="#222" stroke-width="1.0"/>
<line x1="438.70" y1="715.90" x2="499.80" y2="625.30" stroke="#222" stroke-width="1.0"/>
<text x="433.30" y="616.40" font-size="9.6" text-anchor="start" textLength="100.90" lengthAdjust="spacingAndGlyphs" fill="#111" >green cor=0.83, p=3.9e−10</text>
<text x="411.10" y="692.35" font-size="11" text-anchor="middle" textLength="75.50" lengthAdjust="spacingAndGlyphs" transform="rotate(-90 411.10 692.35)" fill="#111" >Gene Significance</text>
<text x="475.15" y="790.90" font-size="11" text-anchor="middle" textLength="56.70" lengthAdjust="spacingAndGlyphs" fill="#111" >Connectivity</text>
<path d="M591.25,630.45a1.7,1.7 0 1,0 3.4,0a1.7,1.7 0 1,0 -3.4,0M569.66,633.86a1.7,1.7 0 1,0 3.4,0a1.7,1.7 0 1,0 -3.4,0M591.94,634.55a1.7,1.7 0 1,0 3.4,0a1.7,1.7 0 1,0 -3.4,0M570.80,638.41a1.7,1.7 0 1,0 3.4,0a1.7,1.7 0 1,0 -3.4,0M566.94,640.68a1.7,1.7 0 1,0 3.4,0a1.7,1.7 0 1,0 -3.4,0M569.21,639.55a1.7,1.7 0 1,0 3.4,0a1.7,1.7 0 1,0 -3.4,0M585.12,638.41a1.7,1.7 0 1,0 3.4,0a1.7,1.7 0 1,0 -3.4,0M588.98,639.55a1.7,1.7 0 1,0 3.4,0a1.7,1.7 0 1,0 -3.4,0M593.98,641.36a1.7,1.7 0 1,0 3.4,0a1.7,1.7 0 1,0 -3.4,0M603.30,642.95a1.7,1.7 0 1,0 3.4,0a1.7,1.7 0 1,0 -3.4,0M572.62,647.50a1.7,1.7 0 1,0 3.4,0a1.7,1.7 0 1,0 -3.4,0M572.62,650.91a1.7,1.7 0 1,0 3.4,0a1.7,1.7 0 1,0 -3.4,0M585.12,647.50a1.7,1.7 0 1,0 3.4,0a1.7,1.7 0 1,0 -3.4,0M601.94,652.05a1.7,1.7 0 1,0 3.4,0a1.7,1.7 0 1,0 -3.4,0M603.75,652.73a1.7,1.7 0 1,0 3.4,0a1.7,1.7 0 1,0 -3.4,0M604.21,656.14a1.7,1.7 0 1,0 3.4,0a1.7,1.7 0 1,0 -3.4,0M565.12,657.27a1.7,1.7 0 1,0 3.4,0a1.7,1.7 0 1,0 -3.4,0M566.94,657.73a1.7,1.7 0 1,0 3.4,0a1.7,1.7 0 1,0 -3.4,0M577.62,657.27a1.7,1.7 0 1,0 3.4,0a1.7,1.7 0 1,0 -3.4,0M586.25,653.18a1.7,1.7 0 1,0 3.4,0a1.7,1.7 0 1,0 -3.4,0M587.39,655.91a1.7,1.7 0 1,0 3.4,0a1.7,1.7 0 1,0 -3.4,0M610.12,655.00a1.7,1.7 0 1,0 3.4,0a1.7,1.7 0 1,0 -3.4,0M606.48,657.27a1.7,1.7 0 1,0 3.4,0a1.7,1.7 0 1,0 -3.4,0M602.62,658.86a1.7,1.7 0 1,0 3.4,0a1.7,1.7 0 1,0 -3.4,0M565.12,661.82a1.7,1.7 0 1,0 3.4,0a1.7,1.7 0 1,0 -3.4,0M574.21,660.68a1.7,1.7 0 1,0 3.4,0a1.7,1.7 0 1,0 -3.4,0M588.98,664.09a1.7,1.7 0 1,0 3.4,0a1.7,1.7 0 1,0 -3.4,0M593.53,666.82a1.7,1.7 0 1,0 3.4,0a1.7,1.7 0 1,0 -3.4,0M596.48,665.68a1.7,1.7 0 1,0 3.4,0a1.7,1.7 0 1,0 -3.4,0M598.75,665.00a1.7,1.7 0 1,0 3.4,0a1.7,1.7 0 1,0 -3.4,0M599.89,664.55a1.7,1.7 0 1,0 3.4,0a1.7,1.7 0 1,0 -3.4,0M569.21,670.23a1.7,1.7 0 1,0 3.4,0a1.7,1.7 0 1,0 -3.4,0M566.25,673.18a1.7,1.7 0 1,0 3.4,0a1.7,1.7 0 1,0 -3.4,0M565.12,673.64a1.7,1.7 0 1,0 3.4,0a1.7,1.7 0 1,0 -3.4,0M587.85,670.91a1.7,1.7 0 1,0 3.4,0a1.7,1.7 0 1,0 -3.4,0M587.39,669.55a1.7,1.7 0 1,0 3.4,0a1.7,1.7 0 1,0 -3.4,0M594.66,672.50a1.7,1.7 0 1,0 3.4,0a1.7,1.7 0 1,0 -3.4,0M598.07,671.36a1.7,1.7 0 1,0 3.4,0a1.7,1.7 0 1,0 -3.4,0M599.21,673.64a1.7,1.7 0 1,0 3.4,0a1.7,1.7 0 1,0 -3.4,0M577.16,673.64a1.7,1.7 0 1,0 3.4,0a1.7,1.7 0 1,0 -3.4,0M576.48,672.50a1.7,1.7 0 1,0 3.4,0a1.7,1.7 0 1,0 -3.4,0M573.07,675.91a1.7,1.7 0 1,0 3.4,0a1.7,1.7 0 1,0 -3.4,0M575.35,675.45a1.7,1.7 0 1,0 3.4,0a1.7,1.7 0 1,0 -3.4,0M577.62,676.59a1.7,1.7 0 1,0 3.4,0a1.7,1.7 0 1,0 -3.4,0M568.53,678.18a1.7,1.7 0 1,0 3.4,0a1.7,1.7 0 1,0 -3.4,0M566.94,681.59a1.7,1.7 0 1,0 3.4,0a1.7,1.7 0 1,0 -3.4,0M565.12,683.41a1.7,1.7 0 1,0 3.4,0a1.7,1.7 0 1,0 -3.4,0M576.48,680.45a1.7,1.7 0 1,0 3.4,0a1.7,1.7 0 1,0 -3.4,0M579.89,680.00a1.7,1.7 0 1,0 3.4,0a1.7,1.7 0 1,0 -3.4,0M582.85,681.59a1.7,1.7 0 1,0 3.4,0a1.7,1.7 0 1,0 -3.4,0M583.98,682.05a1.7,1.7 0 1,0 3.4,0a1.7,1.7 0 1,0 -3.4,0M611.71,670.23a1.7,1.7 0 1,0 3.4,0a1.7,1.7 0 1,0 -3.4,0M613.30,674.32a1.7,1.7 0 1,0 3.4,0a1.7,1.7 0 1,0 -3.4,0M603.30,680.45a1.7,1.7 0 1,0 3.4,0a1.7,1.7 0 1,0 -3.4,0M616.25,680.45a1.7,1.7 0 1,0 3.4,0a1.7,1.7 0 1,0 -3.4,0M618.07,681.14a1.7,1.7 0 1,0 3.4,0a1.7,1.7 0 1,0 -3.4,0M632.16,666.14a1.7,1.7 0 1,0 3.4,0a1.7,1.7 0 1,0 -3.4,0M574.21,684.55a1.7,1.7 0 1,0 3.4,0a1.7,1.7 0 1,0 -3.4,0M577.62,686.14a1.7,1.7 0 1,0 3.4,0a1.7,1.7 0 1,0 -3.4,0M574.89,687.27a1.7,1.7 0 1,0 3.4,0a1.7,1.7 0 1,0 -3.4,0M585.57,685.00a1.7,1.7 0 1,0 3.4,0a1.7,1.7 0 1,0 -3.4,0M588.98,685.68a1.7,1.7 0 1,0 3.4,0a1.7,1.7 0 1,0 -3.4,0M590.12,686.82a1.7,1.7 0 1,0 3.4,0a1.7,1.7 0 1,0 -3.4,0M593.53,684.55a1.7,1.7 0 1,0 3.4,0a1.7,1.7 0 1,0 -3.4,0M565.12,689.55a1.7,1.7 0 1,0 3.4,0a1.7,1.7 0 1,0 -3.4,0M567.85,691.36a1.7,1.7 0 1,0 3.4,0a1.7,1.7 0 1,0 -3.4,0M566.25,692.95a1.7,1.7 0 1,0 3.4,0a1.7,1.7 0 1,0 -3.4,0M564.66,693.64a1.7,1.7 0 1,0 3.4,0a1.7,1.7 0 1,0 -3.4,0M577.16,691.82a1.7,1.7 0 1,0 3.4,0a1.7,1.7 0 1,0 -3.4,0M581.03,689.09a1.7,1.7 0 1,0 3.4,0a1.7,1.7 0 1,0 -3.4,0M593.07,690.23a1.7,1.7 0 1,0 3.4,0a1.7,1.7 0 1,0 -3.4,0M598.75,687.27a1.7,1.7 0 1,0 3.4,0a1.7,1.7 0 1,0 -3.4,0M600.35,687.95a1.7,1.7 0 1,0 3.4,0a1.7,1.7 0 1,0 -3.4,0M598.07,695.68a1.7,1.7 0 1,0 3.4,0a1.7,1.7 0 1,0 -3.4,0M570.80,699.32a1.7,1.7 0 1,0 3.4,0a1.7,1.7 0 1,0 -3.4,0M566.25,701.59a1.7,1.7 0 1,0 3.4,0a1.7,1.7 0 1,0 -3.4,0M599.89,705.45a1.7,1.7 0 1,0 3.4,0a1.7,1.7 0 1,0 -3.4,0M601.03,706.59a1.7,1.7 0 1,0 3.4,0a1.7,1.7 0 1,0 -3.4,0M565.12,704.32a1.7,1.7 0 1,0 3.4,0a1.7,1.7 0 1,0 -3.4,0M567.85,708.86a1.7,1.7 0 1,0 3.4,0a1.7,1.7 0 1,0 -3.4,0M566.25,709.55a1.7,1.7 0 1,0 3.4,0a1.7,1.7 0 1,0 -3.4,0M568.53,710.68a1.7,1.7 0 1,0 3.4,0a1.7,1.7 0 1,0 -3.4,0M569.66,711.14a1.7,1.7 0 1,0 3.4,0a1.7,1.7 0 1,0 -3.4,0M565.12,712.27a1.7,1.7 0 1,0 3.4,0a1.7,1.7 0 1,0 -3.4,0M567.85,714.55a1.7,1.7 0 1,0 3.4,0a1.7,1.7 0 1,0 -3.4,0M572.62,707.73a1.7,1.7 0 1,0 3.4,0a1.7,1.7 0 1,0 -3.4,0M573.07,712.95a1.7,1.7 0 1,0 3.4,0a1.7,1.7 0 1,0 -3.4,0M571.94,714.09a1.7,1.7 0 1,0 3.4,0a1.7,1.7 0 1,0 -3.4,0M574.21,716.36a1.7,1.7 0 1,0 3.4,0a1.7,1.7 0 1,0 -3.4,0M572.62,717.50a1.7,1.7 0 1,0 3.4,0a1.7,1.7 0 1,0 -3.4,0M574.21,714.55a1.7,1.7 0 1,0 3.4,0a1.7,1.7 0 1,0 -3.4,0M571.48,719.09a1.7,1.7 0 1,0 3.4,0a1.7,1.7 0 1,0 -3.4,0M574.21,721.36a1.7,1.7 0 1,0 3.4,0a1.7,1.7 0 1,0 -3.4,0M568.53,722.50a1.7,1.7 0 1,0 3.4,0a1.7,1.7 0 1,0 -3.4,0M571.48,724.09a1.7,1.7 0 1,0 3.4,0a1.7,1.7 0 1,0 -3.4,0M570.12,725.23a1.7,1.7 0 1,0 3.4,0a1.7,1.7 0 1,0 -3.4,0M569.21,727.05a1.7,1.7 0 1,0 3.4,0a1.7,1.7 0 1,0 -3.4,0M567.39,728.64a1.7,1.7 0 1,0 3.4,0a1.7,1.7 0 1,0 -3.4,0M565.12,726.59a1.7,1.7 0 1,0 3.4,0a1.7,1.7 0 1,0 -3.4,0M567.85,730.00a1.7,1.7 0 1,0 3.4,0a1.7,1.7 0 1,0 -3.4,0M573.07,728.64a1.7,1.7 0 1,0 3.4,0a1.7,1.7 0 1,0 -3.4,0M586.71,708.86a1.7,1.7 0 1,0 3.4,0a1.7,1.7 0 1,0 -3.4,0M588.98,713.41a1.7,1.7 0 1,0 3.4,0a1.7,1.7 0 1,0 -3.4,0M582.85,714.55a1.7,1.7 0 1,0 3.4,0a1.7,1.7 0 1,0 -3.4,0M583.98,717.95a1.7,1.7 0 1,0 3.4,0a1.7,1.7 0 1,0 -3.4,0M578.75,720.91a1.7,1.7 0 1,0 3.4,0a1.7,1.7 0 1,0 -3.4,0M577.62,721.82a1.7,1.7 0 1,0 3.4,0a1.7,1.7 0 1,0 -3.4,0M591.94,719.09a1.7,1.7 0 1,0 3.4,0a1.7,1.7 0 1,0 -3.4,0M592.39,720.00a1.7,1.7 0 1,0 3.4,0a1.7,1.7 0 1,0 -3.4,0M565.12,717.95a1.7,1.7 0 1,0 3.4,0a1.7,1.7 0 1,0 -3.4,0M566.25,723.64a1.7,1.7 0 1,0 3.4,0a1.7,1.7 0 1,0 -3.4,0M564.66,723.64a1.7,1.7 0 1,0 3.4,0a1.7,1.7 0 1,0 -3.4,0M598.07,728.18a1.7,1.7 0 1,0 3.4,0a1.7,1.7 0 1,0 -3.4,0M566.94,739.55a1.7,1.7 0 1,0 3.4,0a1.7,1.7 0 1,0 -3.4,0M566.25,741.82a1.7,1.7 0 1,0 3.4,0a1.7,1.7 0 1,0 -3.4,0M565.12,744.77a1.7,1.7 0 1,0 3.4,0a1.7,1.7 0 1,0 -3.4,0M570.12,744.77a1.7,1.7 0 1,0 3.4,0a1.7,1.7 0 1,0 -3.4,0M579.21,739.09a1.7,1.7 0 1,0 3.4,0a1.7,1.7 0 1,0 -3.4,0M585.12,747.95a1.7,1.7 0 1,0 3.4,0a1.7,1.7 0 1,0 -3.4,0M574.21,754.77a1.7,1.7 0 1,0 3.4,0a1.7,1.7 0 1,0 -3.4,0" fill="none" stroke="#a52a2a" stroke-width="0.85"/>
<rect x="563.90" y="625.50" width="72.70" height="133.80" stroke="#222" stroke-width="1.0" fill="none"/>
<line x1="559.40" y1="625.90" x2="563.90" y2="625.90" stroke="#222" stroke-width="1.0"/>
<text x="554.30" y="625.90" font-size="10.3" text-anchor="middle" transform="rotate(-90 554.30 625.90)" fill="#111" >0.6</text>
<line x1="559.40" y1="654.30" x2="563.90" y2="654.30" stroke="#222" stroke-width="1.0"/>
<text x="554.30" y="654.30" font-size="10.3" text-anchor="middle" transform="rotate(-90 554.30 654.30)" fill="#111" >0.4</text>
<line x1="559.40" y1="682.70" x2="563.90" y2="682.70" stroke="#222" stroke-width="1.0"/>
<text x="554.30" y="682.70" font-size="10.3" text-anchor="middle" transform="rotate(-90 554.30 682.70)" fill="#111" >0.2</text>
<line x1="559.40" y1="711.00" x2="563.90" y2="711.00" stroke="#222" stroke-width="1.0"/>
<text x="554.30" y="711.00" font-size="10.3" text-anchor="middle" transform="rotate(-90 554.30 711.00)" fill="#111" >0.0</text>
<line x1="559.40" y1="739.40" x2="563.90" y2="739.40" stroke="#222" stroke-width="1.0"/>
<text x="554.30" y="739.40" font-size="10.3" text-anchor="middle" transform="rotate(-90 554.30 739.40)" fill="#111" >−0.2</text>
<line x1="566.10" y1="759.30" x2="566.10" y2="763.90" stroke="#222" stroke-width="1.0"/>
<text x="566.10" y="774.30" font-size="10.3" text-anchor="middle" fill="#111" >0</text>
<line x1="576.33" y1="759.30" x2="576.33" y2="763.90" stroke="#222" stroke-width="1.0"/>
<line x1="586.56" y1="759.30" x2="586.56" y2="763.90" stroke="#222" stroke-width="1.0"/>
<text x="586.56" y="774.30" font-size="10.3" text-anchor="middle" fill="#111" >4</text>
<line x1="596.79" y1="759.30" x2="596.79" y2="763.90" stroke="#222" stroke-width="1.0"/>
<line x1="607.02" y1="759.30" x2="607.02" y2="763.90" stroke="#222" stroke-width="1.0"/>
<text x="607.02" y="774.30" font-size="10.3" text-anchor="middle" fill="#111" >8</text>
<line x1="617.25" y1="759.30" x2="617.25" y2="763.90" stroke="#222" stroke-width="1.0"/>
<line x1="627.48" y1="759.30" x2="627.48" y2="763.90" stroke="#222" stroke-width="1.0"/>
<text x="627.48" y="774.30" font-size="10.3" text-anchor="middle" fill="#111" >12</text>
<line x1="563.90" y1="699.80" x2="636.60" y2="652.00" stroke="#222" stroke-width="1.0"/>
<text x="554.80" y="616.60" font-size="9.6" text-anchor="start" textLength="104.10" lengthAdjust="spacingAndGlyphs" fill="#111" >brown cor=0.33, p=0.00019</text>
<text x="536.30" y="692.40" font-size="11" text-anchor="middle" textLength="75.50" lengthAdjust="spacingAndGlyphs" transform="rotate(-90 536.30 692.40)" fill="#111" >Gene Significance</text>
<text x="600.25" y="790.80" font-size="11" text-anchor="middle" textLength="56.70" lengthAdjust="spacingAndGlyphs" fill="#111" >Connectivity</text>
<path d="M63.14,822.09a1.7,1.7 0 1,0 3.4,0a1.7,1.7 0 1,0 -3.4,0M64.89,824.95a1.7,1.7 0 1,0 3.4,0a1.7,1.7 0 1,0 -3.4,0M62.04,829.78a1.7,1.7 0 1,0 3.4,0a1.7,1.7 0 1,0 -3.4,0M68.19,848.24a1.7,1.7 0 1,0 3.4,0a1.7,1.7 0 1,0 -3.4,0M65.33,850.44a1.7,1.7 0 1,0 3.4,0a1.7,1.7 0 1,0 -3.4,0M62.04,851.76a1.7,1.7 0 1,0 3.4,0a1.7,1.7 0 1,0 -3.4,0M69.73,857.91a1.7,1.7 0 1,0 3.4,0a1.7,1.7 0 1,0 -3.4,0M62.04,857.91a1.7,1.7 0 1,0 3.4,0a1.7,1.7 0 1,0 -3.4,0M66.87,859.01a1.7,1.7 0 1,0 3.4,0a1.7,1.7 0 1,0 -3.4,0M66.43,862.31a1.7,1.7 0 1,0 3.4,0a1.7,1.7 0 1,0 -3.4,0M65.33,864.51a1.7,1.7 0 1,0 3.4,0a1.7,1.7 0 1,0 -3.4,0M76.76,861.21a1.7,1.7 0 1,0 3.4,0a1.7,1.7 0 1,0 -3.4,0M76.32,863.41a1.7,1.7 0 1,0 3.4,0a1.7,1.7 0 1,0 -3.4,0M80.06,864.95a1.7,1.7 0 1,0 3.4,0a1.7,1.7 0 1,0 -3.4,0M81.38,867.80a1.7,1.7 0 1,0 3.4,0a1.7,1.7 0 1,0 -3.4,0M89.51,866.70a1.7,1.7 0 1,0 3.4,0a1.7,1.7 0 1,0 -3.4,0M107.09,865.82a1.7,1.7 0 1,0 3.4,0a1.7,1.7 0 1,0 -3.4,0M64.23,870.00a1.7,1.7 0 1,0 3.4,0a1.7,1.7 0 1,0 -3.4,0M74.12,870.44a1.7,1.7 0 1,0 3.4,0a1.7,1.7 0 1,0 -3.4,0M62.04,876.59a1.7,1.7 0 1,0 3.4,0a1.7,1.7 0 1,0 -3.4,0M66.43,876.59a1.7,1.7 0 1,0 3.4,0a1.7,1.7 0 1,0 -3.4,0M69.73,874.84a1.7,1.7 0 1,0 3.4,0a1.7,1.7 0 1,0 -3.4,0M71.27,874.40a1.7,1.7 0 1,0 3.4,0a1.7,1.7 0 1,0 -3.4,0M65.33,879.89a1.7,1.7 0 1,0 3.4,0a1.7,1.7 0 1,0 -3.4,0M68.19,879.89a1.7,1.7 0 1,0 3.4,0a1.7,1.7 0 1,0 -3.4,0M66.43,877.69a1.7,1.7 0 1,0 3.4,0a1.7,1.7 0 1,0 -3.4,0M118.74,877.69a1.7,1.7 0 1,0 3.4,0a1.7,1.7 0 1,0 -3.4,0M75.22,881.65a1.7,1.7 0 1,0 3.4,0a1.7,1.7 0 1,0 -3.4,0M76.32,886.48a1.7,1.7 0 1,0 3.4,0a1.7,1.7 0 1,0 -3.4,0M69.73,888.02a1.7,1.7 0 1,0 3.4,0a1.7,1.7 0 1,0 -3.4,0M86.87,885.82a1.7,1.7 0 1,0 3.4,0a1.7,1.7 0 1,0 -3.4,0M62.70,893.08a1.7,1.7 0 1,0 3.4,0a1.7,1.7 0 1,0 -3.4,0M69.73,895.27a1.7,1.7 0 1,0 3.4,0a1.7,1.7 0 1,0 -3.4,0M74.12,895.27a1.7,1.7 0 1,0 3.4,0a1.7,1.7 0 1,0 -3.4,0M108.19,897.03a1.7,1.7 0 1,0 3.4,0a1.7,1.7 0 1,0 -3.4,0M80.06,908.90a1.7,1.7 0 1,0 3.4,0a1.7,1.7 0 1,0 -3.4,0M78.52,913.96a1.7,1.7 0 1,0 3.4,0a1.7,1.7 0 1,0 -3.4,0M91.49,917.25a1.7,1.7 0 1,0 3.4,0a1.7,1.7 0 1,0 -3.4,0M84.01,920.55a1.7,1.7 0 1,0 3.4,0a1.7,1.7 0 1,0 -3.4,0M87.31,923.19a1.7,1.7 0 1,0 3.4,0a1.7,1.7 0 1,0 -3.4,0M98.30,920.55a1.7,1.7 0 1,0 3.4,0a1.7,1.7 0 1,0 -3.4,0M102.04,919.45a1.7,1.7 0 1,0 3.4,0a1.7,1.7 0 1,0 -3.4,0M114.12,927.80a1.7,1.7 0 1,0 3.4,0a1.7,1.7 0 1,0 -3.4,0M117.42,924.29a1.7,1.7 0 1,0 3.4,0a1.7,1.7 0 1,0 -3.4,0M129.07,926.04a1.7,1.7 0 1,0 3.4,0a1.7,1.7 0 1,0 -3.4,0M85.55,931.98a1.7,1.7 0 1,0 3.4,0a1.7,1.7 0 1,0 -3.4,0M64.89,946.92a1.7,1.7 0 1,0 3.4,0a1.7,1.7 0 1,0 -3.4,0" fill="none" stroke="#ff0000" stroke-width="0.85"/>
<rect x="60.90" y="816.80" width="72.70" height="135.20" stroke="#222" stroke-width="1.0" fill="none"/>
<line x1="56.40" y1="829.30" x2="60.90" y2="829.30" stroke="#222" stroke-width="1.0"/>
<line x1="56.40" y1="850.62" x2="60.90" y2="850.62" stroke="#222" stroke-width="1.0"/>
<text x="51.30" y="850.62" font-size="10.3" text-anchor="middle" transform="rotate(-90 51.30 850.62)" fill="#111" >−0.2</text>
<line x1="56.40" y1="871.94" x2="60.90" y2="871.94" stroke="#222" stroke-width="1.0"/>
<line x1="56.40" y1="893.26" x2="60.90" y2="893.26" stroke="#222" stroke-width="1.0"/>
<text x="51.30" y="893.26" font-size="10.3" text-anchor="middle" transform="rotate(-90 51.30 893.26)" fill="#111" >−0.4</text>
<line x1="56.40" y1="914.58" x2="60.90" y2="914.58" stroke="#222" stroke-width="1.0"/>
<line x1="56.40" y1="935.90" x2="60.90" y2="935.90" stroke="#222" stroke-width="1.0"/>
<text x="51.30" y="935.90" font-size="10.3" text-anchor="middle" transform="rotate(-90 51.30 935.90)" fill="#111" >−0.6</text>
<line x1="62.60" y1="952.00" x2="62.60" y2="956.60" stroke="#222" stroke-width="1.0"/>
<text x="62.60" y="967.00" font-size="10.3" text-anchor="middle" fill="#111" >0</text>
<line x1="80.77" y1="952.00" x2="80.77" y2="956.60" stroke="#222" stroke-width="1.0"/>
<text x="80.77" y="967.00" font-size="10.3" text-anchor="middle" fill="#111" >1</text>
<line x1="98.94" y1="952.00" x2="98.94" y2="956.60" stroke="#222" stroke-width="1.0"/>
<text x="98.94" y="967.00" font-size="10.3" text-anchor="middle" fill="#111" >2</text>
<line x1="117.11" y1="952.00" x2="117.11" y2="956.60" stroke="#222" stroke-width="1.0"/>
<text x="117.11" y="967.00" font-size="10.3" text-anchor="middle" fill="#111" >3</text>
<line x1="60.90" y1="864.50" x2="133.60" y2="930.40" stroke="#222" stroke-width="1.0"/>
<text x="58.30" y="807.90" font-size="9.6" text-anchor="start" textLength="96.70" lengthAdjust="spacingAndGlyphs" fill="#111" >red cor=−0.54, p=0.00011</text>
<text x="33.30" y="884.40" font-size="11" text-anchor="middle" textLength="75.50" lengthAdjust="spacingAndGlyphs" transform="rotate(-90 33.30 884.40)" fill="#111" >Gene Significance</text>
<text x="97.25" y="983.50" font-size="11" text-anchor="middle" textLength="56.70" lengthAdjust="spacingAndGlyphs" fill="#111" >Connectivity</text>
<path d="M194.67,822.09a1.7,1.7 0 1,0 3.4,0a1.7,1.7 0 1,0 -3.4,0M200.17,842.53a1.7,1.7 0 1,0 3.4,0a1.7,1.7 0 1,0 -3.4,0M187.20,853.52a1.7,1.7 0 1,0 3.4,0a1.7,1.7 0 1,0 -3.4,0M188.74,854.62a1.7,1.7 0 1,0 3.4,0a1.7,1.7 0 1,0 -3.4,0M192.04,859.01a1.7,1.7 0 1,0 3.4,0a1.7,1.7 0 1,0 -3.4,0M191.38,862.31a1.7,1.7 0 1,0 3.4,0a1.7,1.7 0 1,0 -3.4,0M189.84,864.51a1.7,1.7 0 1,0 3.4,0a1.7,1.7 0 1,0 -3.4,0M187.64,866.70a1.7,1.7 0 1,0 3.4,0a1.7,1.7 0 1,0 -3.4,0M190.94,866.70a1.7,1.7 0 1,0 3.4,0a1.7,1.7 0 1,0 -3.4,0M188.08,872.20a1.7,1.7 0 1,0 3.4,0a1.7,1.7 0 1,0 -3.4,0M189.84,871.54a1.7,1.7 0 1,0 3.4,0a1.7,1.7 0 1,0 -3.4,0M192.04,873.30a1.7,1.7 0 1,0 3.4,0a1.7,1.7 0 1,0 -3.4,0M204.12,866.70a1.7,1.7 0 1,0 3.4,0a1.7,1.7 0 1,0 -3.4,0M203.03,868.46a1.7,1.7 0 1,0 3.4,0a1.7,1.7 0 1,0 -3.4,0M201.49,870.00a1.7,1.7 0 1,0 3.4,0a1.7,1.7 0 1,0 -3.4,0M200.83,872.20a1.7,1.7 0 1,0 3.4,0a1.7,1.7 0 1,0 -3.4,0M194.23,875.05a1.7,1.7 0 1,0 3.4,0a1.7,1.7 0 1,0 -3.4,0M195.99,876.59a1.7,1.7 0 1,0 3.4,0a1.7,1.7 0 1,0 -3.4,0M193.14,877.69a1.7,1.7 0 1,0 3.4,0a1.7,1.7 0 1,0 -3.4,0M192.04,879.89a1.7,1.7 0 1,0 3.4,0a1.7,1.7 0 1,0 -3.4,0M189.84,882.09a1.7,1.7 0 1,0 3.4,0a1.7,1.7 0 1,0 -3.4,0M188.74,884.29a1.7,1.7 0 1,0 3.4,0a1.7,1.7 0 1,0 -3.4,0M187.64,884.95a1.7,1.7 0 1,0 3.4,0a1.7,1.7 0 1,0 -3.4,0M193.14,880.99a1.7,1.7 0 1,0 3.4,0a1.7,1.7 0 1,0 -3.4,0M194.23,877.69a1.7,1.7 0 1,0 3.4,0a1.7,1.7 0 1,0 -3.4,0M198.19,878.79a1.7,1.7 0 1,0 3.4,0a1.7,1.7 0 1,0 -3.4,0M218.41,877.03a1.7,1.7 0 1,0 3.4,0a1.7,1.7 0 1,0 -3.4,0M233.35,872.42a1.7,1.7 0 1,0 3.4,0a1.7,1.7 0 1,0 -3.4,0M254.67,868.90a1.7,1.7 0 1,0 3.4,0a1.7,1.7 0 1,0 -3.4,0M236.43,885.82a1.7,1.7 0 1,0 3.4,0a1.7,1.7 0 1,0 -3.4,0M240.39,883.63a1.7,1.7 0 1,0 3.4,0a1.7,1.7 0 1,0 -3.4,0M188.08,890.44a1.7,1.7 0 1,0 3.4,0a1.7,1.7 0 1,0 -3.4,0M192.04,890.44a1.7,1.7 0 1,0 3.4,0a1.7,1.7 0 1,0 -3.4,0M192.48,891.98a1.7,1.7 0 1,0 3.4,0a1.7,1.7 0 1,0 -3.4,0M197.09,890.44a1.7,1.7 0 1,0 3.4,0a1.7,1.7 0 1,0 -3.4,0M222.37,889.78a1.7,1.7 0 1,0 3.4,0a1.7,1.7 0 1,0 -3.4,0M235.33,890.88a1.7,1.7 0 1,0 3.4,0a1.7,1.7 0 1,0 -3.4,0M238.19,893.52a1.7,1.7 0 1,0 3.4,0a1.7,1.7 0 1,0 -3.4,0M214.67,896.37a1.7,1.7 0 1,0 3.4,0a1.7,1.7 0 1,0 -3.4,0M243.68,897.91a1.7,1.7 0 1,0 3.4,0a1.7,1.7 0 1,0 -3.4,0M253.57,897.47a1.7,1.7 0 1,0 3.4,0a1.7,1.7 0 1,0 -3.4,0M188.08,901.43a1.7,1.7 0 1,0 3.4,0a1.7,1.7 0 1,0 -3.4,0M188.74,902.97a1.7,1.7 0 1,0 3.4,0a1.7,1.7 0 1,0 -3.4,0M198.19,904.07a1.7,1.7 0 1,0 3.4,0a1.7,1.7 0 1,0 -3.4,0M230.50,903.63a1.7,1.7 0 1,0 3.4,0a1.7,1.7 0 1,0 -3.4,0M239.29,905.82a1.7,1.7 0 1,0 3.4,0a1.7,1.7 0 1,0 -3.4,0M190.28,916.81a1.7,1.7 0 1,0 3.4,0a1.7,1.7 0 1,0 -3.4,0M194.23,911.76a1.7,1.7 0 1,0 3.4,0a1.7,1.7 0 1,0 -3.4,0M199.07,920.11a1.7,1.7 0 1,0 3.4,0a1.7,1.7 0 1,0 -3.4,0M188.30,932.20a1.7,1.7 0 1,0 3.4,0a1.7,1.7 0 1,0 -3.4,0M188.74,946.48a1.7,1.7 0 1,0 3.4,0a1.7,1.7 0 1,0 -3.4,0" fill="none" stroke="#000000" stroke-width="0.85"/>
<rect x="186.70" y="816.80" width="72.50" height="135.20" stroke="#222" stroke-width="1.0" fill="none"/>
<line x1="182.20" y1="828.20" x2="186.70" y2="828.20" stroke="#222" stroke-width="1.0"/>
<text x="177.10" y="828.20" font-size="10.3" text-anchor="middle" transform="rotate(-90 177.10 828.20)" fill="#111" >0.4</text>
<line x1="182.20" y1="861.50" x2="186.70" y2="861.50" stroke="#222" stroke-width="1.0"/>
<text x="177.10" y="861.50" font-size="10.3" text-anchor="middle" transform="rotate(-90 177.10 861.50)" fill="#111" >0.2</text>
<line x1="182.20" y1="894.80" x2="186.70" y2="894.80" stroke="#222" stroke-width="1.0"/>
<text x="177.10" y="894.80" font-size="10.3" text-anchor="middle" transform="rotate(-90 177.10 894.80)" fill="#111" >0.0</text>
<line x1="182.20" y1="928.10" x2="186.70" y2="928.10" stroke="#222" stroke-width="1.0"/>
<text x="177.10" y="928.10" font-size="10.3" text-anchor="middle" transform="rotate(-90 177.10 928.10)" fill="#111" >−0.2</text>
<line x1="188.20" y1="952.00" x2="188.20" y2="956.60" stroke="#222" stroke-width="1.0"/>
<text x="188.20" y="967.00" font-size="10.3" text-anchor="middle" fill="#111" >0.0</text>
<line x1="199.63" y1="952.00" x2="199.63" y2="956.60" stroke="#222" stroke-width="1.0"/>
<line x1="211.06" y1="952.00" x2="211.06" y2="956.60" stroke="#222" stroke-width="1.0"/>
<line x1="222.49" y1="952.00" x2="222.49" y2="956.60" stroke="#222" stroke-width="1.0"/>
<text x="222.49" y="967.00" font-size="10.3" text-anchor="middle" fill="#111" >1.5</text>
<line x1="233.92" y1="952.00" x2="233.92" y2="956.60" stroke="#222" stroke-width="1.0"/>
<line x1="245.35" y1="952.00" x2="245.35" y2="956.60" stroke="#222" stroke-width="1.0"/>
<line x1="256.78" y1="952.00" x2="256.78" y2="956.60" stroke="#222" stroke-width="1.0"/>
<text x="256.78" y="967.00" font-size="10.3" text-anchor="middle" fill="#111" >3.0</text>
<line x1="186.70" y1="878.10" x2="259.20" y2="890.40" stroke="#222" stroke-width="1.0"/>
<text x="181.70" y="807.90" font-size="9.6" text-anchor="start" textLength="91.60" lengthAdjust="spacingAndGlyphs" fill="#111" >black cor=−0.15, p=0.28</text>
<text x="159.10" y="884.40" font-size="11" text-anchor="middle" textLength="75.50" lengthAdjust="spacingAndGlyphs" transform="rotate(-90 159.10 884.40)" fill="#111" >Gene Significance</text>
<text x="222.95" y="983.50" font-size="11" text-anchor="middle" textLength="56.70" lengthAdjust="spacingAndGlyphs" fill="#111" >Connectivity</text>
<path d="M336.38,823.41a1.7,1.7 0 1,0 3.4,0a1.7,1.7 0 1,0 -3.4,0M350.00,824.95a1.7,1.7 0 1,0 3.4,0a1.7,1.7 0 1,0 -3.4,0M366.93,822.09a1.7,1.7 0 1,0 3.4,0a1.7,1.7 0 1,0 -3.4,0M328.46,826.04a1.7,1.7 0 1,0 3.4,0a1.7,1.7 0 1,0 -3.4,0M374.18,831.98a1.7,1.7 0 1,0 3.4,0a1.7,1.7 0 1,0 -3.4,0M316.38,837.47a1.7,1.7 0 1,0 3.4,0a1.7,1.7 0 1,0 -3.4,0M322.09,836.59a1.7,1.7 0 1,0 3.4,0a1.7,1.7 0 1,0 -3.4,0M328.46,838.79a1.7,1.7 0 1,0 3.4,0a1.7,1.7 0 1,0 -3.4,0M320.33,843.63a1.7,1.7 0 1,0 3.4,0a1.7,1.7 0 1,0 -3.4,0M321.43,843.63a1.7,1.7 0 1,0 3.4,0a1.7,1.7 0 1,0 -3.4,0M354.40,844.29a1.7,1.7 0 1,0 3.4,0a1.7,1.7 0 1,0 -3.4,0M369.12,844.73a1.7,1.7 0 1,0 3.4,0a1.7,1.7 0 1,0 -3.4,0M370.22,850.88a1.7,1.7 0 1,0 3.4,0a1.7,1.7 0 1,0 -3.4,0M318.14,848.46a1.7,1.7 0 1,0 3.4,0a1.7,1.7 0 1,0 -3.4,0M319.67,848.02a1.7,1.7 0 1,0 3.4,0a1.7,1.7 0 1,0 -3.4,0M380.77,853.52a1.7,1.7 0 1,0 3.4,0a1.7,1.7 0 1,0 -3.4,0M348.90,853.52a1.7,1.7 0 1,0 3.4,0a1.7,1.7 0 1,0 -3.4,0M322.53,854.62a1.7,1.7 0 1,0 3.4,0a1.7,1.7 0 1,0 -3.4,0M313.74,856.81a1.7,1.7 0 1,0 3.4,0a1.7,1.7 0 1,0 -3.4,0M331.98,856.15a1.7,1.7 0 1,0 3.4,0a1.7,1.7 0 1,0 -3.4,0M324.07,858.57a1.7,1.7 0 1,0 3.4,0a1.7,1.7 0 1,0 -3.4,0M323.19,860.55a1.7,1.7 0 1,0 3.4,0a1.7,1.7 0 1,0 -3.4,0M332.86,860.11a1.7,1.7 0 1,0 3.4,0a1.7,1.7 0 1,0 -3.4,0M335.28,860.55a1.7,1.7 0 1,0 3.4,0a1.7,1.7 0 1,0 -3.4,0M316.60,863.41a1.7,1.7 0 1,0 3.4,0a1.7,1.7 0 1,0 -3.4,0M321.43,864.07a1.7,1.7 0 1,0 3.4,0a1.7,1.7 0 1,0 -3.4,0M336.38,864.07a1.7,1.7 0 1,0 3.4,0a1.7,1.7 0 1,0 -3.4,0M314.84,865.16a1.7,1.7 0 1,0 3.4,0a1.7,1.7 0 1,0 -3.4,0M325.83,866.70a1.7,1.7 0 1,0 3.4,0a1.7,1.7 0 1,0 -3.4,0M328.46,866.04a1.7,1.7 0 1,0 3.4,0a1.7,1.7 0 1,0 -3.4,0M347.37,872.86a1.7,1.7 0 1,0 3.4,0a1.7,1.7 0 1,0 -3.4,0M358.14,870.00a1.7,1.7 0 1,0 3.4,0a1.7,1.7 0 1,0 -3.4,0M315.50,875.05a1.7,1.7 0 1,0 3.4,0a1.7,1.7 0 1,0 -3.4,0M316.60,877.25a1.7,1.7 0 1,0 3.4,0a1.7,1.7 0 1,0 -3.4,0M315.94,882.53a1.7,1.7 0 1,0 3.4,0a1.7,1.7 0 1,0 -3.4,0M322.09,884.29a1.7,1.7 0 1,0 3.4,0a1.7,1.7 0 1,0 -3.4,0M313.74,884.73a1.7,1.7 0 1,0 3.4,0a1.7,1.7 0 1,0 -3.4,0M314.40,886.48a1.7,1.7 0 1,0 3.4,0a1.7,1.7 0 1,0 -3.4,0M314.84,890.22a1.7,1.7 0 1,0 3.4,0a1.7,1.7 0 1,0 -3.4,0M325.39,896.81a1.7,1.7 0 1,0 3.4,0a1.7,1.7 0 1,0 -3.4,0M320.33,908.46a1.7,1.7 0 1,0 3.4,0a1.7,1.7 0 1,0 -3.4,0M325.39,907.58a1.7,1.7 0 1,0 3.4,0a1.7,1.7 0 1,0 -3.4,0M314.40,918.79a1.7,1.7 0 1,0 3.4,0a1.7,1.7 0 1,0 -3.4,0M324.73,916.59a1.7,1.7 0 1,0 3.4,0a1.7,1.7 0 1,0 -3.4,0M330.22,920.33a1.7,1.7 0 1,0 3.4,0a1.7,1.7 0 1,0 -3.4,0M313.30,925.60a1.7,1.7 0 1,0 3.4,0a1.7,1.7 0 1,0 -3.4,0M313.30,937.03a1.7,1.7 0 1,0 3.4,0a1.7,1.7 0 1,0 -3.4,0M313.30,946.48a1.7,1.7 0 1,0 3.4,0a1.7,1.7 0 1,0 -3.4,0" fill="none" stroke="#40e0d0" stroke-width="0.85"/>
<rect x="312.80" y="816.80" width="73.00" height="135.20" stroke="#222" stroke-width="1.0" fill="none"/>
<line x1="308.30" y1="829.80" x2="312.80" y2="829.80" stroke="#222" stroke-width="1.0"/>
<text x="303.20" y="829.80" font-size="10.3" text-anchor="middle" transform="rotate(-90 303.20 829.80)" fill="#111" >0.4</text>
<line x1="308.30" y1="862.00" x2="312.80" y2="862.00" stroke="#222" stroke-width="1.0"/>
<text x="303.20" y="862.00" font-size="10.3" text-anchor="middle" transform="rotate(-90 303.20 862.00)" fill="#111" >0.2</text>
<line x1="308.30" y1="894.20" x2="312.80" y2="894.20" stroke="#222" stroke-width="1.0"/>
<text x="303.20" y="894.20" font-size="10.3" text-anchor="middle" transform="rotate(-90 303.20 894.20)" fill="#111" >0.0</text>
<line x1="308.30" y1="926.40" x2="312.80" y2="926.40" stroke="#222" stroke-width="1.0"/>
<text x="303.20" y="926.40" font-size="10.3" text-anchor="middle" transform="rotate(-90 303.20 926.40)" fill="#111" >−0.2</text>
<line x1="314.80" y1="952.00" x2="314.80" y2="956.60" stroke="#222" stroke-width="1.0"/>
<text x="314.80" y="967.00" font-size="10.3" text-anchor="middle" fill="#111" >0</text>
<line x1="324.68" y1="952.00" x2="324.68" y2="956.60" stroke="#222" stroke-width="1.0"/>
<line x1="334.56" y1="952.00" x2="334.56" y2="956.60" stroke="#222" stroke-width="1.0"/>
<text x="334.56" y="967.00" font-size="10.3" text-anchor="middle" fill="#111" >2</text>
<line x1="344.44" y1="952.00" x2="344.44" y2="956.60" stroke="#222" stroke-width="1.0"/>
<line x1="354.32" y1="952.00" x2="354.32" y2="956.60" stroke="#222" stroke-width="1.0"/>
<text x="354.32" y="967.00" font-size="10.3" text-anchor="middle" fill="#111" >4</text>
<line x1="364.20" y1="952.00" x2="364.20" y2="956.60" stroke="#222" stroke-width="1.0"/>
<line x1="374.08" y1="952.00" x2="374.08" y2="956.60" stroke="#222" stroke-width="1.0"/>
<text x="374.08" y="967.00" font-size="10.3" text-anchor="middle" fill="#111" >6</text>
<line x1="383.96" y1="952.00" x2="383.96" y2="956.60" stroke="#222" stroke-width="1.0"/>
<line x1="312.80" y1="882.50" x2="385.80" y2="828.20" stroke="#222" stroke-width="1.0"/>
<text x="300.30" y="807.90" font-size="9.6" text-anchor="start" textLength="103.90" lengthAdjust="spacingAndGlyphs" fill="#111" >turquoise cor=0.46, p=0.001</text>
<text x="285.20" y="884.40" font-size="11" text-anchor="middle" textLength="75.50" lengthAdjust="spacingAndGlyphs" transform="rotate(-90 285.20 884.40)" fill="#111" >Gene Significance</text>
<text x="349.30" y="983.50" font-size="11" text-anchor="middle" textLength="56.70" lengthAdjust="spacingAndGlyphs" fill="#111" >Connectivity</text>
<path d="M455.39,822.09a1.7,1.7 0 1,0 3.4,0a1.7,1.7 0 1,0 -3.4,0M476.27,822.09a1.7,1.7 0 1,0 3.4,0a1.7,1.7 0 1,0 -3.4,0M444.84,835.27a1.7,1.7 0 1,0 3.4,0a1.7,1.7 0 1,0 -3.4,0M448.57,840.99a1.7,1.7 0 1,0 3.4,0a1.7,1.7 0 1,0 -3.4,0M444.84,845.38a1.7,1.7 0 1,0 3.4,0a1.7,1.7 0 1,0 -3.4,0M453.19,846.92a1.7,1.7 0 1,0 3.4,0a1.7,1.7 0 1,0 -3.4,0M440.00,850.66a1.7,1.7 0 1,0 3.4,0a1.7,1.7 0 1,0 -3.4,0M452.09,859.67a1.7,1.7 0 1,0 3.4,0a1.7,1.7 0 1,0 -3.4,0M468.35,860.33a1.7,1.7 0 1,0 3.4,0a1.7,1.7 0 1,0 -3.4,0M474.51,858.13a1.7,1.7 0 1,0 3.4,0a1.7,1.7 0 1,0 -3.4,0M460.22,864.95a1.7,1.7 0 1,0 3.4,0a1.7,1.7 0 1,0 -3.4,0M463.52,863.85a1.7,1.7 0 1,0 3.4,0a1.7,1.7 0 1,0 -3.4,0M474.07,869.34a1.7,1.7 0 1,0 3.4,0a1.7,1.7 0 1,0 -3.4,0M439.34,872.20a1.7,1.7 0 1,0 3.4,0a1.7,1.7 0 1,0 -3.4,0M444.40,872.64a1.7,1.7 0 1,0 3.4,0a1.7,1.7 0 1,0 -3.4,0M440.88,875.05a1.7,1.7 0 1,0 3.4,0a1.7,1.7 0 1,0 -3.4,0M455.83,875.05a1.7,1.7 0 1,0 3.4,0a1.7,1.7 0 1,0 -3.4,0M477.37,874.84a1.7,1.7 0 1,0 3.4,0a1.7,1.7 0 1,0 -3.4,0M503.08,872.20a1.7,1.7 0 1,0 3.4,0a1.7,1.7 0 1,0 -3.4,0M506.82,875.93a1.7,1.7 0 1,0 3.4,0a1.7,1.7 0 1,0 -3.4,0M443.08,878.35a1.7,1.7 0 1,0 3.4,0a1.7,1.7 0 1,0 -3.4,0M448.14,879.45a1.7,1.7 0 1,0 3.4,0a1.7,1.7 0 1,0 -3.4,0M464.62,877.25a1.7,1.7 0 1,0 3.4,0a1.7,1.7 0 1,0 -3.4,0M466.38,880.99a1.7,1.7 0 1,0 3.4,0a1.7,1.7 0 1,0 -3.4,0M469.67,882.09a1.7,1.7 0 1,0 3.4,0a1.7,1.7 0 1,0 -3.4,0M479.34,881.43a1.7,1.7 0 1,0 3.4,0a1.7,1.7 0 1,0 -3.4,0M502.64,881.43a1.7,1.7 0 1,0 3.4,0a1.7,1.7 0 1,0 -3.4,0M440.00,881.65a1.7,1.7 0 1,0 3.4,0a1.7,1.7 0 1,0 -3.4,0M439.34,885.38a1.7,1.7 0 1,0 3.4,0a1.7,1.7 0 1,0 -3.4,0M442.64,884.29a1.7,1.7 0 1,0 3.4,0a1.7,1.7 0 1,0 -3.4,0M441.54,886.48a1.7,1.7 0 1,0 3.4,0a1.7,1.7 0 1,0 -3.4,0M447.04,885.82a1.7,1.7 0 1,0 3.4,0a1.7,1.7 0 1,0 -3.4,0M448.79,887.14a1.7,1.7 0 1,0 3.4,0a1.7,1.7 0 1,0 -3.4,0M443.74,888.02a1.7,1.7 0 1,0 3.4,0a1.7,1.7 0 1,0 -3.4,0M444.84,886.48a1.7,1.7 0 1,0 3.4,0a1.7,1.7 0 1,0 -3.4,0M469.01,890.44a1.7,1.7 0 1,0 3.4,0a1.7,1.7 0 1,0 -3.4,0M477.37,889.78a1.7,1.7 0 1,0 3.4,0a1.7,1.7 0 1,0 -3.4,0M481.10,888.68a1.7,1.7 0 1,0 3.4,0a1.7,1.7 0 1,0 -3.4,0M438.90,894.18a1.7,1.7 0 1,0 3.4,0a1.7,1.7 0 1,0 -3.4,0M442.64,896.37a1.7,1.7 0 1,0 3.4,0a1.7,1.7 0 1,0 -3.4,0M447.04,899.67a1.7,1.7 0 1,0 3.4,0a1.7,1.7 0 1,0 -3.4,0M452.09,897.91a1.7,1.7 0 1,0 3.4,0a1.7,1.7 0 1,0 -3.4,0M455.39,901.21a1.7,1.7 0 1,0 3.4,0a1.7,1.7 0 1,0 -3.4,0M458.68,895.71a1.7,1.7 0 1,0 3.4,0a1.7,1.7 0 1,0 -3.4,0M463.08,893.52a1.7,1.7 0 1,0 3.4,0a1.7,1.7 0 1,0 -3.4,0M463.08,902.31a1.7,1.7 0 1,0 3.4,0a1.7,1.7 0 1,0 -3.4,0M473.41,893.08a1.7,1.7 0 1,0 3.4,0a1.7,1.7 0 1,0 -3.4,0M476.71,901.87a1.7,1.7 0 1,0 3.4,0a1.7,1.7 0 1,0 -3.4,0M487.70,893.52a1.7,1.7 0 1,0 3.4,0a1.7,1.7 0 1,0 -3.4,0M492.75,894.62a1.7,1.7 0 1,0 3.4,0a1.7,1.7 0 1,0 -3.4,0M440.88,908.02a1.7,1.7 0 1,0 3.4,0a1.7,1.7 0 1,0 -3.4,0M443.74,906.92a1.7,1.7 0 1,0 3.4,0a1.7,1.7 0 1,0 -3.4,0M444.40,910.66a1.7,1.7 0 1,0 3.4,0a1.7,1.7 0 1,0 -3.4,0M448.79,908.02a1.7,1.7 0 1,0 3.4,0a1.7,1.7 0 1,0 -3.4,0M449.89,915.05a1.7,1.7 0 1,0 3.4,0a1.7,1.7 0 1,0 -3.4,0M472.31,906.92a1.7,1.7 0 1,0 3.4,0a1.7,1.7 0 1,0 -3.4,0M476.71,911.76a1.7,1.7 0 1,0 3.4,0a1.7,1.7 0 1,0 -3.4,0M488.79,908.02a1.7,1.7 0 1,0 3.4,0a1.7,1.7 0 1,0 -3.4,0M498.03,911.76a1.7,1.7 0 1,0 3.4,0a1.7,1.7 0 1,0 -3.4,0M440.00,922.75a1.7,1.7 0 1,0 3.4,0a1.7,1.7 0 1,0 -3.4,0M441.54,923.85a1.7,1.7 0 1,0 3.4,0a1.7,1.7 0 1,0 -3.4,0M443.08,924.95a1.7,1.7 0 1,0 3.4,0a1.7,1.7 0 1,0 -3.4,0M444.40,923.85a1.7,1.7 0 1,0 3.4,0a1.7,1.7 0 1,0 -3.4,0M448.79,927.80a1.7,1.7 0 1,0 3.4,0a1.7,1.7 0 1,0 -3.4,0M449.67,927.80a1.7,1.7 0 1,0 3.4,0a1.7,1.7 0 1,0 -3.4,0M451.43,927.80a1.7,1.7 0 1,0 3.4,0a1.7,1.7 0 1,0 -3.4,0M447.48,935.93a1.7,1.7 0 1,0 3.4,0a1.7,1.7 0 1,0 -3.4,0M455.83,940.77a1.7,1.7 0 1,0 3.4,0a1.7,1.7 0 1,0 -3.4,0M473.41,939.45a1.7,1.7 0 1,0 3.4,0a1.7,1.7 0 1,0 -3.4,0M447.48,946.48a1.7,1.7 0 1,0 3.4,0a1.7,1.7 0 1,0 -3.4,0M450.99,944.07a1.7,1.7 0 1,0 3.4,0a1.7,1.7 0 1,0 -3.4,0" fill="none" stroke="#ff00ff" stroke-width="0.85"/>
<rect x="438.40" y="816.80" width="73.00" height="135.20" stroke="#222" stroke-width="1.0" fill="none"/>
<line x1="433.90" y1="833.10" x2="438.40" y2="833.10" stroke="#222" stroke-width="1.0"/>
<text x="428.80" y="833.10" font-size="10.3" text-anchor="middle" transform="rotate(-90 428.80 833.10)" fill="#111" >0.4</text>
<line x1="433.90" y1="869.10" x2="438.40" y2="869.10" stroke="#222" stroke-width="1.0"/>
<text x="428.80" y="869.10" font-size="10.3" text-anchor="middle" transform="rotate(-90 428.80 869.10)" fill="#111" >0.2</text>
<line x1="433.90" y1="905.20" x2="438.40" y2="905.20" stroke="#222" stroke-width="1.0"/>
<text x="428.80" y="905.20" font-size="10.3" text-anchor="middle" transform="rotate(-90 428.80 905.20)" fill="#111" >0.0</text>
<line x1="433.90" y1="941.30" x2="438.40" y2="941.30" stroke="#222" stroke-width="1.0"/>
<text x="428.80" y="941.30" font-size="10.3" text-anchor="middle" transform="rotate(-90 428.80 941.30)" fill="#111" >−0.2</text>
<line x1="440.60" y1="952.00" x2="440.60" y2="956.60" stroke="#222" stroke-width="1.0"/>
<text x="440.60" y="967.00" font-size="10.3" text-anchor="middle" fill="#111" >0</text>
<line x1="450.55" y1="952.00" x2="450.55" y2="956.60" stroke="#222" stroke-width="1.0"/>
<line x1="460.50" y1="952.00" x2="460.50" y2="956.60" stroke="#222" stroke-width="1.0"/>
<text x="460.50" y="967.00" font-size="10.3" text-anchor="middle" fill="#111" >2</text>
<line x1="470.45" y1="952.00" x2="470.45" y2="956.60" stroke="#222" stroke-width="1.0"/>
<line x1="480.40" y1="952.00" x2="480.40" y2="956.60" stroke="#222" stroke-width="1.0"/>
<text x="480.40" y="967.00" font-size="10.3" text-anchor="middle" fill="#111" >4</text>
<line x1="490.35" y1="952.00" x2="490.35" y2="956.60" stroke="#222" stroke-width="1.0"/>
<line x1="500.30" y1="952.00" x2="500.30" y2="956.60" stroke="#222" stroke-width="1.0"/>
<text x="500.30" y="967.00" font-size="10.3" text-anchor="middle" fill="#111" >6</text>
<line x1="510.25" y1="952.00" x2="510.25" y2="956.60" stroke="#222" stroke-width="1.0"/>
<line x1="438.40" y1="892.40" x2="511.40" y2="883.20" stroke="#222" stroke-width="1.0"/>
<text x="427.50" y="807.90" font-size="9.6" text-anchor="start" textLength="101.70" lengthAdjust="spacingAndGlyphs" fill="#111" >magenta cor=0.088, p=0.46</text>
<text x="410.80" y="884.40" font-size="11" text-anchor="middle" textLength="75.50" lengthAdjust="spacingAndGlyphs" transform="rotate(-90 410.80 884.40)" fill="#111" >Gene Significance</text>
<text x="474.90" y="983.50" font-size="11" text-anchor="middle" textLength="56.70" lengthAdjust="spacingAndGlyphs" fill="#111" >Connectivity</text>
</svg>
</body></html>
